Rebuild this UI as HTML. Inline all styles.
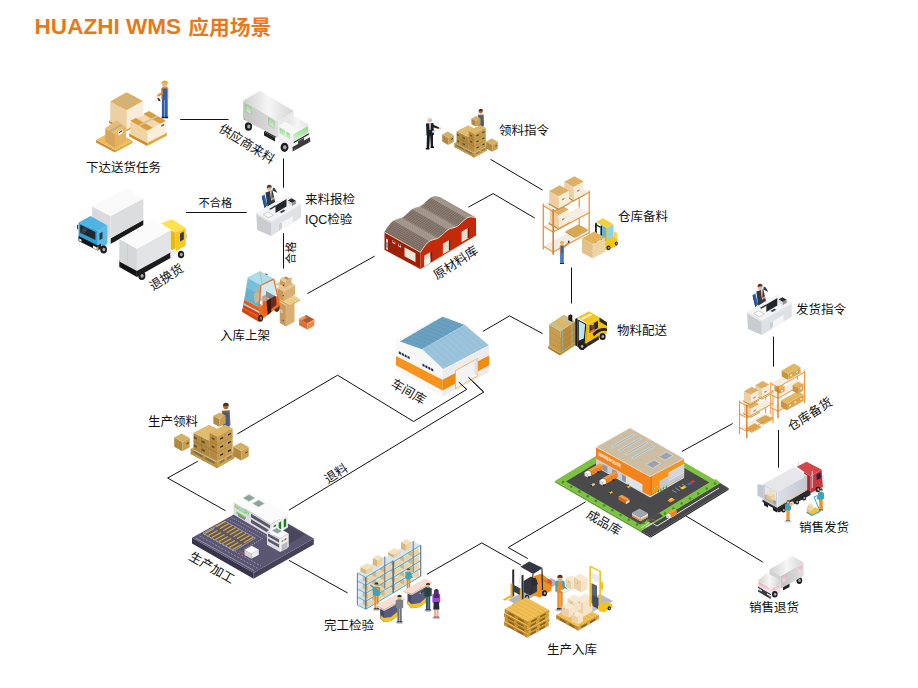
<!DOCTYPE html><html lang="zh"><head><meta charset="utf-8"><title>HUAZHI WMS 应用场景</title>
<style>html,body{margin:0;padding:0;background:#fff}body{width:918px;height:688px;overflow:hidden;font-family:"Liberation Sans","Noto Sans CJK SC",sans-serif}svg{display:block}text{font-family:"Liberation Sans","Noto Sans CJK SC",sans-serif;fill:#111}</style></head><body>
<svg width="918" height="688" viewBox="0 0 918 688">
<rect width="918" height="688" fill="#fff"/>
<text x="34.6" y="34.4" font-size="21.5" font-weight="bold" style="fill:#E8791A" textLength="146.5" lengthAdjust="spacingAndGlyphs">HUAZHI WMS</text>
<text x="188.3" y="35.4" font-size="20.5" font-weight="bold" style="fill:#E8791A" textLength="83" lengthAdjust="spacingAndGlyphs">应用场景</text>
<polyline points="180.2,119.5 228.5,119.5" fill="none" stroke="#111" stroke-width="1" />
<polyline points="283.5,158.5 283.5,187.7" fill="none" stroke="#111" stroke-width="1" />
<polyline points="283.5,233.2 283.5,268.6" fill="none" stroke="#111" stroke-width="1" />
<polyline points="186.0,212.5 246.7,212.5" fill="none" stroke="#111" stroke-width="1" />
<polyline points="307.4,293.6 374.7,256.1" fill="none" stroke="#111" stroke-width="1" />
<polyline points="468.4,207.2 493.1,193.6 534.7,218.0" fill="none" stroke="#111" stroke-width="1" />
<polyline points="490.5,159.3 542.6,190.1" fill="none" stroke="#111" stroke-width="1" />
<polyline points="571.5,267.5 571.5,303.5" fill="none" stroke="#111" stroke-width="1" />
<polyline points="482.9,331.4 509.6,315.9 542.6,333.6" fill="none" stroke="#111" stroke-width="1" />
<polyline points="773.5,336.6 773.5,366.7" fill="none" stroke="#111" stroke-width="1" />
<polyline points="778.5,430.0 778.5,467.7" fill="none" stroke="#111" stroke-width="1" />
<polyline points="681.8,451.5 732.7,423.5" fill="none" stroke="#111" stroke-width="1" />
<polyline points="685.7,515.8 762.8,562.1" fill="none" stroke="#111" stroke-width="1" />
<polyline points="585.7,501.8 508.2,547.5 527.8,558.6" fill="none" stroke="#111" stroke-width="1" />
<polyline points="426.9,574.3 481.8,542.9 521.0,565.1" fill="none" stroke="#111" stroke-width="1" />
<polyline points="288.9,560.3 347.5,592.9" fill="none" stroke="#111" stroke-width="1" />
<polyline points="197.7,461.3 167.6,478.0 225.5,510.7" fill="none" stroke="#111" stroke-width="1" />
<polyline points="237.4,433.9 337.6,375.2 413.6,421.5 466.7,389.4 458.8,382.3" fill="none" stroke="#111" stroke-width="1" />
<polyline points="288.9,510.2 483.7,392.1 468.4,377.2" fill="none" stroke="#111" stroke-width="1" />
<polygon points="126.5,131.5 109.0,122.9 109.0,120.7 126.5,129.3" fill="#c98e2b" /><polygon points="126.5,131.5 143.5,122.1 143.5,119.9 126.5,129.3" fill="#e2a842" /><polygon points="126.5,129.3 109.0,120.7 126.0,111.3 143.5,119.9" fill="#eebc5c" /><polygon points="126.5,129.5 110.2,120.9 110.2,101.6 126.5,110.2" fill="#ecd0a4" /><polygon points="126.5,129.5 142.9,120.2 142.9,100.9 126.5,110.2" fill="#f8ecd8" /><polygon points="126.5,110.2 110.2,101.6 126.6,92.3 142.9,100.9" fill="#ddb067" /><polygon points="133.7,106.1 135.7,105.0 119.4,96.4 117.4,97.5" fill="#c9b48a" /><polygon points="119.3,106.4 117.4,105.4 133.8,96.1 135.7,97.1" fill="#c9b48a" /><polygon points="115.0,152.5 96.0,142.5 96.0,140.1 115.0,150.1" fill="#c98e2b" /><polygon points="115.0,152.5 132.5,143.0 132.5,140.6 115.0,150.1" fill="#e2a842" /><polygon points="115.0,150.1 96.0,140.1 113.5,130.6 132.5,140.6" fill="#eebc5c" /><polygon points="115.0,148.0 105.3,141.5 105.3,127.9 115.0,134.4" fill="#dca552" /><polygon points="115.0,148.0 126.0,140.4 126.0,126.8 115.0,134.4" fill="#e4b466" /><polygon points="115.0,134.4 105.3,127.9 116.3,120.3 126.0,126.8" fill="#e6bd74" /><polygon points="110.9,131.7 109.2,130.5 120.2,124.5 121.9,125.7" fill="#c4ad84" /><polygon points="110.9,145.3 109.2,144.1 109.2,130.5 110.9,131.7" fill="#c4a878" /><polygon points="118.5,131.5 122.5,129.3 122.5,133.3 118.5,135.5" fill="#fff" /><polygon points="119.0,132.0 122.0,130.3 122.0,131.6 119.0,133.3" fill="#444" /><polygon points="147.2,146.0 129.2,136.6 129.2,133.6 147.2,143.0" fill="#c98e2b" /><polygon points="147.2,146.0 166.8,135.8 166.8,132.8 147.2,143.0" fill="#e2a842" /><polygon points="147.2,143.0 129.2,133.6 148.8,123.4 166.8,132.8" fill="#eebc5c" /><polygon points="147.2,142.6 130.3,133.9 130.3,121.9 147.2,130.6" fill="#efd4a6" /><polygon points="147.2,142.6 165.8,133.3 165.8,121.3 147.2,130.6" fill="#f9efdd" /><polygon points="147.2,130.6 130.3,121.9 148.9,112.6 165.8,121.3" fill="#f0d9b0" /><polygon points="147.2,130.6 152.8,127.7 135.9,117.9 130.3,120.8" fill="#dc9c3c" /><polygon points="160.2,123.7 165.8,120.8 148.9,111.0 143.3,113.9" fill="#dc9c3c" /><polygon points="139.6,126.2 137.9,125.2 156.5,115.4 158.2,116.4" fill="#d8c29a" /><polygon points="161.0,124.6 164.5,122.8 164.5,126.6 161.0,128.4" fill="#fff" /><polygon points="161.3,125.3 164.2,123.8 164.2,125.2 161.3,126.7" fill="#444" /><rect x="161.9" y="98.8" width="2.7" height="18.4" fill="#2b5fb0" rx="0.0"/><rect x="165.0" y="98.8" width="2.7" height="18.4" fill="#2b5fb0" rx="0.0"/><rect x="161.6" y="116.7" width="3.2" height="1.6" fill="#222" rx="0.0"/><rect x="165.0" y="116.7" width="3.2" height="1.6" fill="#222" rx="0.0"/><rect x="161.2" y="86.9" width="7.1" height="13.0" fill="#f08a1c" rx="1.7"/><rect x="162.4" y="88.5" width="4.8" height="11.4" fill="#2b5fb0" rx="0.5"/><circle cx="164.8" cy="84.4" r="2.7" fill="#e8b88a" /><path d="M161.3 83.6 a3.5 3.7 0 0 1 6.9 0 z" fill="#f5a623"/><polygon points="157.0,95.0 162.5,91.5 163.5,93.5 158.0,97.0" fill="#f08a1c" /><polygon points="154.5,95.5 158.5,96.5 160.0,100.5 157.0,100.0" fill="#eee" /><polygon points="157.5,97.5 160.0,99.0 160.5,101.5 158.0,100.5" fill="#333" /><defs><linearGradient id="gw1" x1="0" y1="0" x2="1" y2="0"><stop offset="0" stop-color="#cfcfcf"/><stop offset="0.5" stop-color="#f6f6f6"/><stop offset="1" stop-color="#d4d4d4"/></linearGradient><linearGradient id="gw2" x1="0" y1="0" x2="1" y2="0"><stop offset="0" stop-color="#c4c4c4"/><stop offset="1" stop-color="#dedede"/></linearGradient><linearGradient id="gwin" x1="0" y1="0" x2="0" y2="1"><stop offset="0" stop-color="#8fd98a"/><stop offset="1" stop-color="#d6f3d2"/></linearGradient></defs><ellipse cx="248.5" cy="126.5" rx="3.6" ry="4.2" fill="#1c1c1c" /><ellipse cx="248.8" cy="126.5" rx="1.6" ry="1.9" fill="#a9a9a9" /><polygon points="264.0,131.5 275.0,137.5 275.0,141.5 264.0,135.5" fill="#222" /><polygon points="264.0,131.5 267.0,130.0 278.0,136.0 275.0,137.5" fill="#333" /><polygon points="243.1,100.7 278.0,121.4 278.0,137.8 243.1,119.3" fill="url(#gw2)" /><polygon points="278.0,121.4 293.8,111.1 293.8,127.0 278.0,137.8" fill="#e9e9e9" /><polygon points="260.0,90.9 243.1,100.7 278.0,121.4 293.8,111.1" fill="url(#gw1)" /><polygon points="245.6,104.3 251.0,107.5 251.0,114.5 245.6,111.3" fill="url(#gwin)" stroke="#9a9a9a" stroke-width="0.4"/><polygon points="268.5,117.8 274.2,121.2 274.2,128.2 268.5,124.8" fill="url(#gwin)" stroke="#9a9a9a" stroke-width="0.4"/><polygon points="278.5,125.5 292.7,134.0 292.7,151.0 278.5,142.5" fill="#f2f2f2" /><polygon points="292.7,134.0 308.5,124.7 310.2,142.2 292.7,151.0" fill="#f4f4f4" /><polygon points="278.5,125.5 295.4,116.5 308.5,124.7 292.7,134.0" fill="#f7f7f7" /><polygon points="286.0,121.5 295.4,116.5 308.5,124.7 299.0,130.2" fill="url(#gw1)" opacity="0.6"/><polygon points="279.5,127.5 285.0,130.8 285.0,136.6 279.5,133.3" fill="url(#gwin)" /><polygon points="286.3,131.5 290.0,133.8 290.0,139.4 286.3,137.2" fill="url(#gwin)" /><polygon points="293.3,134.4 307.7,126.0 308.6,132.2 293.6,141.0" fill="url(#gwin)" /><polygon points="293.6,142.0 308.8,133.2 309.0,134.4 293.7,143.3" fill="#222" /><polygon points="298.0,141.2 304.0,137.7 304.2,141.5 298.2,145.0" fill="#444" /><polygon points="292.5,147.0 310.0,137.2 310.3,141.8 292.7,151.5" fill="#3a3a3a" /><circle cx="294.8" cy="149.3" r="0.7" fill="#d63cc8" /><circle cx="308.6" cy="141.6" r="0.7" fill="#d63cc8" /><circle cx="244.8" cy="119.4" r="0.5" fill="#d63cc8" /><circle cx="275.5" cy="137.0" r="0.5" fill="#d63cc8" /><ellipse cx="284.5" cy="147.3" rx="3.9" ry="4.6" fill="#1c1c1c" /><ellipse cx="284.8" cy="147.3" rx="1.8" ry="2.1" fill="#a9a9a9" /><polygon points="261.8,196.5 264.5,194.3 267.5,205.5 264.5,208.0" fill="#2d63b5" /><polygon points="261.8,196.5 262.8,195.6 265.6,207.0 264.5,208.0" fill="#1f4a8c" /><polygon points="265.5,192.5 272.5,190.2 275.5,203.5 267.5,207.0" fill="#2e3a44" /><polygon points="270.0,191.5 271.6,191.0 272.6,200.0 271.2,200.6" fill="#f2f2f2" /><polygon points="270.7,192.5 271.5,192.3 272.4,199.0 271.5,199.5" fill="#d0343c" /><polygon points="272.5,190.5 277.5,193.0 275.0,188.5 273.0,187.5" fill="#2e3a44" /><circle cx="269.3" cy="188.4" r="2.3" fill="#e5b48c" /><path d="M266.8 188 a2.6 2.9 0 0 1 5.2 -0.6 l-1.2 -0.2 l-3 0.6z" fill="#5a3420"/><circle cx="273.5" cy="198.5" r="1.0" fill="#e5b48c" /><polygon points="256.2,213.1 286.7,195.3 301.0,204.0 271.0,221.8" fill="#f3f4f5" /><polygon points="256.2,213.1 271.0,221.8 271.0,236.0 257.2,229.9" fill="#c9cdd1" /><polygon points="271.0,221.8 301.0,204.0 301.0,217.7 271.0,236.0" fill="#dfe2e5" /><polygon points="279.0,224.0 292.8,216.0 292.8,223.0 279.0,231.3" fill="#f4f5f6" /><polygon points="279.0,224.0 282.0,222.3 282.0,227.5 279.0,231.3" fill="#ccd0d4" /><polygon points="256.2,213.1 271.0,221.8 301.0,204.0 301.0,205.4 271.0,223.2 256.2,214.5" fill="#e6e8ea" /><polygon points="275.5,205.5 286.5,199.0 286.5,206.5 275.5,213.0" fill="#23272b" /><polygon points="279.5,212.0 283.5,209.7 285.5,210.8 281.5,213.1" fill="#3a3f44" /><polygon points="269.0,209.0 275.0,205.5 276.5,206.3 270.5,209.8" fill="#2c3136" /><polygon points="287.7,200.5 291.5,198.3 295.9,200.8 292.0,203.0" fill="#2a2e32" /><polygon points="287.7,200.5 292.0,203.0 292.0,206.0 287.7,203.5" fill="#d8dbde" /><polygon points="292.0,203.0 295.9,200.8 295.9,203.8 292.0,206.0" fill="#8a9096" /><polygon points="263.0,214.6 268.0,211.8 273.5,215.0 268.5,217.8" fill="#ffffff" stroke="#8a8f94" stroke-width="0.4"/><g transform="translate(490.8 99.0)"><polygon points="261.8,196.5 264.5,194.3 267.5,205.5 264.5,208.0" fill="#2d63b5" /><polygon points="261.8,196.5 262.8,195.6 265.6,207.0 264.5,208.0" fill="#1f4a8c" /><polygon points="265.5,192.5 272.5,190.2 275.5,203.5 267.5,207.0" fill="#2e3a44" /><polygon points="270.0,191.5 271.6,191.0 272.6,200.0 271.2,200.6" fill="#f2f2f2" /><polygon points="270.7,192.5 271.5,192.3 272.4,199.0 271.5,199.5" fill="#d0343c" /><polygon points="272.5,190.5 277.5,193.0 275.0,188.5 273.0,187.5" fill="#2e3a44" /><circle cx="269.3" cy="188.4" r="2.3" fill="#e5b48c" /><path d="M266.8 188 a2.6 2.9 0 0 1 5.2 -0.6 l-1.2 -0.2 l-3 0.6z" fill="#5a3420"/><circle cx="273.5" cy="198.5" r="1.0" fill="#e5b48c" /><polygon points="256.2,213.1 286.7,195.3 301.0,204.0 271.0,221.8" fill="#f3f4f5" /><polygon points="256.2,213.1 271.0,221.8 271.0,236.0 257.2,229.9" fill="#c9cdd1" /><polygon points="271.0,221.8 301.0,204.0 301.0,217.7 271.0,236.0" fill="#dfe2e5" /><polygon points="279.0,224.0 292.8,216.0 292.8,223.0 279.0,231.3" fill="#f4f5f6" /><polygon points="279.0,224.0 282.0,222.3 282.0,227.5 279.0,231.3" fill="#ccd0d4" /><polygon points="256.2,213.1 271.0,221.8 301.0,204.0 301.0,205.4 271.0,223.2 256.2,214.5" fill="#e6e8ea" /><polygon points="275.5,205.5 286.5,199.0 286.5,206.5 275.5,213.0" fill="#23272b" /><polygon points="279.5,212.0 283.5,209.7 285.5,210.8 281.5,213.1" fill="#3a3f44" /><polygon points="269.0,209.0 275.0,205.5 276.5,206.3 270.5,209.8" fill="#2c3136" /><polygon points="287.7,200.5 291.5,198.3 295.9,200.8 292.0,203.0" fill="#2a2e32" /><polygon points="287.7,200.5 292.0,203.0 292.0,206.0 287.7,203.5" fill="#d8dbde" /><polygon points="292.0,203.0 295.9,200.8 295.9,203.8 292.0,206.0" fill="#8a9096" /><polygon points="263.0,214.6 268.0,211.8 273.5,215.0 268.5,217.8" fill="#ffffff" stroke="#8a8f94" stroke-width="0.4"/></g><polygon points="110.5,238.3 143.3,219.9 143.3,225.5 110.5,244.0" fill="#1a1a1a" /><polygon points="92.2,206.4 110.5,216.0 110.5,239.5 92.2,230.0" fill="#d9dadb" /><polygon points="110.5,216.0 143.3,198.4 143.3,220.0 110.5,238.5" fill="#dcdddf" /><polygon points="126.5,188.0 92.2,206.4 110.5,216.0 143.3,198.4" fill="#fafafa" /><polygon points="107.5,236.0 110.5,237.6 110.5,244.0 107.5,242.4" fill="#eeeeee" /><polygon points="78.6,222.4 97.8,231.1 97.8,250.3 78.6,240.8" fill="#2b9fd6" /><polygon points="97.8,231.1 107.4,225.5 107.4,244.0 97.8,250.3" fill="#5db9e6" /><polygon points="90.6,216.0 78.6,222.4 97.8,231.1 107.4,225.5" fill="#4fb4e4" /><polygon points="80.2,224.8 95.4,232.0 95.4,240.0 80.2,232.8" fill="#23272b" /><polygon points="83.0,227.0 88.0,229.4 84.0,233.5 81.5,232.3" fill="#3c4248" /><polygon points="99.5,233.5 102.5,231.8 102.5,238.5 99.5,240.3" fill="#2d3a42" /><polygon points="78.6,236.0 97.8,245.5 97.8,250.5 78.6,241.0" fill="#141414" /><polygon points="97.8,245.5 101.0,243.6 101.0,248.6 97.8,250.5" fill="#222" /><polygon points="79.2,238.6 81.5,239.7 81.5,241.8 79.2,240.7" fill="#fff" /><polygon points="93.0,245.5 96.8,247.4 96.8,249.8 93.0,247.9" fill="#fff" /><polygon points="96.8,247.4 98.4,246.5 98.4,250.0 96.8,250.7" fill="#f5a623" /><polygon points="77.0,224.5 78.2,225.0 78.2,229.5 77.0,229.0" fill="#3a4a55" /><ellipse cx="103.6" cy="249.6" rx="3.4" ry="4.0" fill="#1c1c1c" /><ellipse cx="103.9" cy="249.6" rx="1.5" ry="1.8" fill="#a9a9a9" /><ellipse cx="181.0" cy="254.5" rx="3.2" ry="3.8" fill="#1c1c1c" /><ellipse cx="181.3" cy="254.5" rx="1.5" ry="1.7" fill="#a9a9a9" /><polygon points="160.9,223.2 172.1,219.2 185.7,227.9 175.3,232.7" fill="#ffe14d" /><polygon points="175.3,232.7 185.7,227.9 185.7,245.5 175.3,251.5" fill="#f7c81e" /><polygon points="170.5,230.3 175.3,232.7 175.3,251.5 170.5,249.0" fill="#e9b90f" /><polygon points="180.0,233.5 183.8,231.6 183.8,239.5 180.0,241.5" fill="#3a3a32" /><polygon points="186.0,234.0 187.0,233.5 187.0,238.5 186.0,239.0" fill="#ccc" /><polygon points="119.3,260.0 136.9,270.0 136.9,277.0 119.3,267.0" fill="#121212" /><polygon points="136.9,270.0 170.5,251.5 170.5,258.0 136.9,277.0" fill="#1c1c1c" /><polygon points="170.5,251.0 176.0,248.0 176.0,254.0 170.5,257.5" fill="#eee" /><polygon points="119.3,239.1 136.9,248.7 136.9,271.0 119.3,261.5" fill="#d6d7d8" /><polygon points="136.9,248.7 170.5,230.3 170.5,252.6 136.9,271.0" fill="#e3e4e5" /><polygon points="152.1,220.0 119.3,239.1 136.9,248.7 170.5,230.3" fill="#fbfbfb" /><line x1="127.5" y1="243.7" x2="127.5" y2="266.0" stroke="#c6c7c8" stroke-width="0.6" /><ellipse cx="141.8" cy="275.8" rx="3.6" ry="4.2" fill="#1c1c1c" /><ellipse cx="142.1" cy="275.8" rx="1.6" ry="1.9" fill="#a9a9a9" /><polygon points="275.0,284.0 279.0,282.0 284.0,285.0 280.0,287.5" fill="#ecc98a" /><polygon points="285.9,326.5 279.8,323.1 279.8,302.1 285.9,305.5" fill="#c9995a" /><polygon points="285.9,326.5 294.5,321.7 294.5,300.7 285.9,305.5" fill="#dab074" /><polygon points="285.9,305.5 279.8,302.1 288.4,297.3 294.5,300.7" fill="#e6c48f" /><polygon points="289.5,306.5 277.0,299.5 277.0,297.9 289.5,304.9" fill="#d4a85e" /><polygon points="289.5,306.5 300.1,300.6 300.1,299.0 289.5,304.9" fill="#dcb46c" /><polygon points="289.5,304.9 277.0,297.9 287.6,292.0 300.1,299.0" fill="#efd092" /><line x1="292.1" y1="303.4" x2="287.1" y2="300.6" stroke="#d4a85e" stroke-width="0.4" /><line x1="294.8" y1="301.9" x2="289.8" y2="299.1" stroke="#d4a85e" stroke-width="0.4" /><line x1="297.4" y1="300.5" x2="292.4" y2="297.7" stroke="#d4a85e" stroke-width="0.4" /><polygon points="283.8,301.0 277.4,297.4 277.4,287.8 283.8,291.4" fill="#c9995a" /><polygon points="283.8,301.0 295.2,294.6 295.2,285.0 283.8,291.4" fill="#dab074" /><polygon points="283.8,291.4 277.4,287.8 288.8,281.4 295.2,285.0" fill="#e6c48f" /><polygon points="285.5,287.3 279.8,284.3 279.8,279.7 285.5,282.7" fill="#c9995a" /><polygon points="285.5,287.3 291.5,284.1 291.5,279.5 285.5,282.7" fill="#dab074" /><polygon points="285.5,282.7 279.8,279.7 285.8,276.5 291.5,279.5" fill="#b88a4c" /><polygon points="279.8,279.7 282.0,277.0 287.5,279.8 285.5,282.7" fill="#e9c996" /><polygon points="285.5,282.7 287.5,279.8 292.5,277.0 291.5,279.5" fill="#deb67c" /><circle cx="283.2" cy="295.6" r="0.7" fill="#2d4a9a" /><circle cx="283.2" cy="320.5" r="0.7" fill="#2d4a9a" /><circle cx="283.5" cy="285.5" r="0.7" fill="#2d4a9a" /><polygon points="280.5,309.0 282.5,310.1 282.5,313.5 280.5,312.4" fill="#e8d4b0" opacity="0.8"/><circle cx="292.5" cy="291.5" r="1.0" fill="#c9a870" /><polygon points="307.3,329.6 299.1,325.2 299.1,319.0 307.3,323.4" fill="#d9733a" /><polygon points="307.3,329.6 314.3,325.7 314.3,319.5 307.3,323.4" fill="#e8894c" /><polygon points="307.3,323.4 299.1,319.0 306.1,315.1 314.3,319.5" fill="#b8562a" /><polygon points="299.1,319.0 304.5,315.9 307.0,317.5 301.5,320.6" fill="#f09a5c" /><polygon points="307.3,323.4 314.3,319.5 314.3,321.0 307.3,325.0" fill="#f4a66a" /><ellipse cx="276.7" cy="306.9" rx="3.1" ry="5.0" fill="#4a2c2c" /><ellipse cx="276.9" cy="306.9" rx="1.4" ry="2.4" fill="#6a4444" /><polygon points="244.2,299.6 258.9,307.2 259.4,322.0 242.1,311.8" fill="#ea5b19" /><polygon points="242.1,308.5 259.4,318.5 259.4,322.0 242.1,311.8" fill="#c94a14" /><polygon points="258.9,307.2 277.7,295.5 279.8,299.5 279.8,305.5 265.5,316.5 259.4,322.0" fill="#f26a21" /><polygon points="244.2,299.6 247.7,297.8 262.0,305.0 258.9,307.2" fill="#f58634" /><polygon points="243.8,303.2 258.9,311.2 258.9,312.9 243.8,304.9" fill="#8fe0ee" /><polygon points="243.6,305.4 258.9,313.5 258.9,315.6 243.6,307.5" fill="#d9301c" /><polygon points="266.0,291.0 276.0,296.5 276.5,305.0 267.5,311.5 266.0,306.0" fill="#6a2a22" /><polygon points="267.3,298.5 271.0,296.5 271.3,312.0 267.6,315.2" fill="#3c1a18" /><polygon points="262.0,296.5 266.0,294.5 267.3,312.5 263.5,315.0" fill="#e8601c" /><polygon points="247.7,277.7 259.9,271.6 273.7,279.2 260.9,285.3" fill="#a9deec" /><polygon points="247.7,277.7 260.9,285.3 258.9,307.2 244.2,299.6" fill="#78c0da" /><polygon points="247.0,288.0 259.8,295.0 258.9,307.2 244.2,299.6" fill="#5aa6c4" opacity="0.6"/><polygon points="260.9,285.3 273.7,279.2 277.3,294.5 266.5,301.0 259.5,302.0" fill="#a6d8ea" opacity="0.55"/><polygon points="253.5,294.0 258.0,291.5 262.0,300.0 255.0,303.5" fill="#cdb592" /><circle cx="256.8" cy="290.3" r="1.7" fill="#c9ab8c" /><polygon points="266.0,297.3 269.2,298.3 269.0,299.5 265.8,298.6" fill="#e2b48c" /><polyline points="260.9,285.3 273.7,279.2 277.7,295.8" fill="none" stroke="#f26a21" stroke-width="1.2" /><line x1="260.9" y1="285.3" x2="259.0" y2="307.2" stroke="#f26a21" stroke-width="1.2" /><line x1="259.9" y1="271.6" x2="262.3" y2="285.0" stroke="#e8a070" stroke-width="0.7" /><polyline points="247.7,277.7 259.9,271.6 273.7,279.2" fill="none" stroke="#8ccbe0" stroke-width="0.6" /><polygon points="265.5,273.2 267.5,274.3 267.5,275.3 265.5,274.2" fill="#333" /><ellipse cx="260.6" cy="318.2" rx="2.4" ry="3.4" fill="#2a2020" /><ellipse cx="260.9" cy="318.2" rx="1.1" ry="1.7" fill="#8a7a7a" /><polygon points="383.6,250.2 420.4,270.0 477.0,235.8 477.0,234.0" fill="#efe6d6" /><polygon points="384.5,232.0 420.4,251.5 420.4,268.9 384.5,249.8" fill="#9e1f08" /><polygon points="420.4,268.9 420.4,252.3 421.6,250.5 422.7,248.8 423.9,247.1 425.0,245.6 426.2,244.2 427.3,243.0 428.5,242.0 429.7,241.2 430.8,240.5 432.0,240.0 433.1,239.7 434.3,239.4 435.5,239.1 436.6,238.7 437.8,238.2 438.9,237.6 440.1,236.8 441.2,235.8 442.4,234.8 443.6,233.6 444.7,232.5 445.9,231.4 447.0,230.5 448.2,229.7 449.4,229.0 450.5,228.5 451.7,228.2 452.8,227.9 454.0,227.6 455.1,227.2 456.3,226.7 457.5,226.1 458.6,225.3 459.8,224.3 460.9,223.3 462.1,222.1 463.3,221.0 464.4,219.9 465.6,219.0 466.7,218.2 467.9,217.5 469.0,217.1 470.2,216.9 471.4,216.9 472.5,217.0 473.7,217.2 474.8,217.5 476.0,217.8 476.0,235.4" fill="#c42a0a" /><polygon points="420.4,252.3 421.6,250.5 385.7,230.2 384.5,232.0" fill="#796b5f" stroke="#796b5f" stroke-width="0.3"/><polygon points="421.6,250.5 422.7,248.8 386.8,228.5 385.7,230.2" fill="#796b5f" stroke="#796b5f" stroke-width="0.3"/><polygon points="422.7,248.8 423.9,247.1 388.0,226.8 386.8,228.5" fill="#796b5f" stroke="#796b5f" stroke-width="0.3"/><polygon points="423.9,247.1 425.0,245.6 389.1,225.3 388.0,226.8" fill="#796b5f" stroke="#796b5f" stroke-width="0.3"/><polygon points="425.0,245.6 426.2,244.2 390.3,223.9 389.1,225.3" fill="#796b5f" stroke="#796b5f" stroke-width="0.3"/><polygon points="426.2,244.2 427.3,243.0 391.4,222.7 390.3,223.9" fill="#796b5f" stroke="#796b5f" stroke-width="0.3"/><polygon points="427.3,243.0 428.5,242.0 392.6,221.7 391.4,222.7" fill="#796b5f" stroke="#796b5f" stroke-width="0.3"/><polygon points="428.5,242.0 429.7,241.2 393.8,220.8 392.6,221.7" fill="#796b5f" stroke="#796b5f" stroke-width="0.3"/><polygon points="429.7,241.2 430.8,240.5 394.9,220.2 393.8,220.8" fill="#9a8c7f" stroke="#9a8c7f" stroke-width="0.3"/><polygon points="430.8,240.5 432.0,240.0 396.1,219.7 394.9,220.2" fill="#9a8c7f" stroke="#9a8c7f" stroke-width="0.3"/><polygon points="432.0,240.0 433.1,239.7 397.2,219.4 396.1,219.7" fill="#9a8c7f" stroke="#9a8c7f" stroke-width="0.3"/><polygon points="433.1,239.7 434.3,239.4 398.4,219.1 397.2,219.4" fill="#9a8c7f" stroke="#9a8c7f" stroke-width="0.3"/><polygon points="434.3,239.4 435.5,239.1 399.6,218.8 398.4,219.1" fill="#9a8c7f" stroke="#9a8c7f" stroke-width="0.3"/><polygon points="435.5,239.1 436.6,238.7 400.7,218.4 399.6,218.8" fill="#9a8c7f" stroke="#9a8c7f" stroke-width="0.3"/><polygon points="436.6,238.7 437.8,238.2 401.9,217.9 400.7,218.4" fill="#9a8c7f" stroke="#9a8c7f" stroke-width="0.3"/><polygon points="437.8,238.2 438.9,237.6 403.0,217.3 401.9,217.9" fill="#85776a" stroke="#85776a" stroke-width="0.3"/><polygon points="438.9,237.6 440.1,236.8 404.2,216.5 403.0,217.3" fill="#796b5f" stroke="#796b5f" stroke-width="0.3"/><polygon points="440.1,236.8 441.2,235.8 405.3,215.5 404.2,216.5" fill="#796b5f" stroke="#796b5f" stroke-width="0.3"/><polygon points="441.2,235.8 442.4,234.8 406.5,214.5 405.3,215.5" fill="#796b5f" stroke="#796b5f" stroke-width="0.3"/><polygon points="442.4,234.8 443.6,233.6 407.7,213.3 406.5,214.5" fill="#796b5f" stroke="#796b5f" stroke-width="0.3"/><polygon points="443.6,233.6 444.7,232.5 408.8,212.2 407.7,213.3" fill="#796b5f" stroke="#796b5f" stroke-width="0.3"/><polygon points="444.7,232.5 445.9,231.4 410.0,211.1 408.8,212.2" fill="#796b5f" stroke="#796b5f" stroke-width="0.3"/><polygon points="445.9,231.4 447.0,230.5 411.1,210.2 410.0,211.1" fill="#796b5f" stroke="#796b5f" stroke-width="0.3"/><polygon points="447.0,230.5 448.2,229.7 412.3,209.3 411.1,210.2" fill="#796b5f" stroke="#796b5f" stroke-width="0.3"/><polygon points="448.2,229.7 449.4,229.0 413.5,208.7 412.3,209.3" fill="#9a8c7f" stroke="#9a8c7f" stroke-width="0.3"/><polygon points="449.4,229.0 450.5,228.5 414.6,208.2 413.5,208.7" fill="#9a8c7f" stroke="#9a8c7f" stroke-width="0.3"/><polygon points="450.5,228.5 451.7,228.2 415.8,207.9 414.6,208.2" fill="#9a8c7f" stroke="#9a8c7f" stroke-width="0.3"/><polygon points="451.7,228.2 452.8,227.9 416.9,207.6 415.8,207.9" fill="#9a8c7f" stroke="#9a8c7f" stroke-width="0.3"/><polygon points="452.8,227.9 454.0,227.6 418.1,207.3 416.9,207.6" fill="#9a8c7f" stroke="#9a8c7f" stroke-width="0.3"/><polygon points="454.0,227.6 455.1,227.2 419.2,206.9 418.1,207.3" fill="#9a8c7f" stroke="#9a8c7f" stroke-width="0.3"/><polygon points="455.1,227.2 456.3,226.7 420.4,206.4 419.2,206.9" fill="#9a8c7f" stroke="#9a8c7f" stroke-width="0.3"/><polygon points="456.3,226.7 457.5,226.1 421.6,205.8 420.4,206.4" fill="#85776a" stroke="#85776a" stroke-width="0.3"/><polygon points="457.5,226.1 458.6,225.3 422.7,205.0 421.6,205.8" fill="#796b5f" stroke="#796b5f" stroke-width="0.3"/><polygon points="458.6,225.3 459.8,224.3 423.9,204.0 422.7,205.0" fill="#796b5f" stroke="#796b5f" stroke-width="0.3"/><polygon points="459.8,224.3 460.9,223.3 425.0,203.0 423.9,204.0" fill="#796b5f" stroke="#796b5f" stroke-width="0.3"/><polygon points="460.9,223.3 462.1,222.1 426.2,201.8 425.0,203.0" fill="#796b5f" stroke="#796b5f" stroke-width="0.3"/><polygon points="462.1,222.1 463.3,221.0 427.4,200.7 426.2,201.8" fill="#796b5f" stroke="#796b5f" stroke-width="0.3"/><polygon points="463.3,221.0 464.4,219.9 428.5,199.6 427.4,200.7" fill="#796b5f" stroke="#796b5f" stroke-width="0.3"/><polygon points="464.4,219.9 465.6,219.0 429.7,198.7 428.5,199.6" fill="#796b5f" stroke="#796b5f" stroke-width="0.3"/><polygon points="465.6,219.0 466.7,218.2 430.8,197.8 429.7,198.7" fill="#796b5f" stroke="#796b5f" stroke-width="0.3"/><polygon points="466.7,218.2 467.9,217.5 432.0,197.2 430.8,197.8" fill="#9a8c7f" stroke="#9a8c7f" stroke-width="0.3"/><polygon points="467.9,217.5 469.0,217.1 433.1,196.8 432.0,197.2" fill="#9a8c7f" stroke="#9a8c7f" stroke-width="0.3"/><polygon points="469.0,217.1 470.2,216.9 434.3,196.6 433.1,196.8" fill="#9a8c7f" stroke="#9a8c7f" stroke-width="0.3"/><polygon points="470.2,216.9 471.4,216.9 435.5,196.6 434.3,196.6" fill="#9a8c7f" stroke="#9a8c7f" stroke-width="0.3"/><polygon points="471.4,216.9 472.5,217.0 436.6,196.7 435.5,196.6" fill="#9a8c7f" stroke="#9a8c7f" stroke-width="0.3"/><polygon points="472.5,217.0 473.7,217.2 437.8,196.9 436.6,196.7" fill="#9a8c7f" stroke="#9a8c7f" stroke-width="0.3"/><polygon points="473.7,217.2 474.8,217.5 438.9,197.2 437.8,196.9" fill="#9a8c7f" stroke="#9a8c7f" stroke-width="0.3"/><polygon points="474.8,217.5 476.0,217.8 440.1,197.5 438.9,197.2" fill="#9a8c7f" stroke="#9a8c7f" stroke-width="0.3"/><polyline points="420.4,252.3 421.6,250.5 422.7,248.8 423.9,247.1 425.0,245.6 426.2,244.2 427.3,243.0 428.5,242.0 429.7,241.2 430.8,240.5 432.0,240.0 433.1,239.7 434.3,239.4 435.5,239.1 436.6,238.7 437.8,238.2 438.9,237.6 440.1,236.8 441.2,235.8 442.4,234.8 443.6,233.6 444.7,232.5 445.9,231.4 447.0,230.5 448.2,229.7 449.4,229.0 450.5,228.5 451.7,228.2 452.8,227.9 454.0,227.6 455.1,227.2 456.3,226.7 457.5,226.1 458.6,225.3 459.8,224.3 460.9,223.3 462.1,222.1 463.3,221.0 464.4,219.9 465.6,219.0 466.7,218.2 467.9,217.5 469.0,217.1 470.2,216.9 471.4,216.9 472.5,217.0 473.7,217.2 474.8,217.5 476.0,217.8" fill="none" stroke="#f1e9dc" stroke-width="0.8" /><line x1="384.5" y1="232.2" x2="420.4" y2="252.3" stroke="#efe6d8" stroke-width="0.8" /><polygon points="424.3,255.8 431.8,251.2 431.8,261.7 424.3,266.3" fill="#efe9dc" /><polygon points="430.3,252.1 432.1,251.0 432.1,261.5 430.3,262.6" fill="#7e1806" /><line x1="424.3" y1="257.9" x2="430.3" y2="254.2" stroke="#b9b09f" stroke-width="0.4" /><line x1="424.3" y1="260.0" x2="430.3" y2="256.3" stroke="#b9b09f" stroke-width="0.4" /><line x1="424.3" y1="262.1" x2="430.3" y2="258.4" stroke="#b9b09f" stroke-width="0.4" /><line x1="424.3" y1="264.2" x2="430.3" y2="260.5" stroke="#b9b09f" stroke-width="0.4" /><polygon points="442.9,243.8 450.4,239.2 450.4,249.7 442.9,254.3" fill="#efe9dc" /><polygon points="448.9,240.1 450.7,239.0 450.7,249.5 448.9,250.6" fill="#7e1806" /><line x1="442.9" y1="245.9" x2="448.9" y2="242.2" stroke="#b9b09f" stroke-width="0.4" /><line x1="442.9" y1="248.0" x2="448.9" y2="244.3" stroke="#b9b09f" stroke-width="0.4" /><line x1="442.9" y1="250.1" x2="448.9" y2="246.4" stroke="#b9b09f" stroke-width="0.4" /><line x1="442.9" y1="252.2" x2="448.9" y2="248.5" stroke="#b9b09f" stroke-width="0.4" /><polygon points="461.6,231.8 469.1,227.2 469.1,237.7 461.6,242.3" fill="#efe9dc" /><polygon points="467.6,228.1 469.4,227.0 469.4,237.5 467.6,238.6" fill="#7e1806" /><line x1="461.6" y1="233.9" x2="467.6" y2="230.2" stroke="#b9b09f" stroke-width="0.4" /><line x1="461.6" y1="236.0" x2="467.6" y2="232.3" stroke="#b9b09f" stroke-width="0.4" /><line x1="461.6" y1="238.1" x2="467.6" y2="234.4" stroke="#b9b09f" stroke-width="0.4" /><line x1="461.6" y1="240.2" x2="467.6" y2="236.5" stroke="#b9b09f" stroke-width="0.4" /><polygon points="424.3,260.3 430.3,256.6 430.3,262.7 424.3,266.3" fill="#f8f6f0" /><polygon points="404.5,247.3 415.5,253.3 415.5,262.3 404.5,256.3" fill="#efe6d6" /><polygon points="392.5,240.0 395.3,241.5 395.3,244.5 392.5,243.0" fill="#efe6d6" /><polygon points="398.3,243.2 401.1,244.7 401.1,247.7 398.3,246.2" fill="#efe6d6" /><polygon points="393.1,240.3 394.7,241.2 394.7,243.0 393.1,242.1" fill="#5a1004" /><polygon points="398.9,243.5 400.5,244.4 400.5,246.2 398.9,245.3" fill="#5a1004" /><polygon points="386.0,238.5 388.0,239.6 388.0,250.0 386.0,248.9" fill="#d9d2c4" /><polygon points="386.5,242.0 387.5,242.6 387.5,248.0 386.5,247.4" fill="#3a5a9a" /><polygon points="396.0,341.6 419.7,347.2 442.6,369.8 442.6,396.5 396.0,370.6" fill="#f7f7f7" /><polygon points="442.6,369.8 489.1,345.4 489.1,372.1 442.6,396.5" fill="#ececec" /><polygon points="396.0,356.1 442.6,379.8 442.6,390.4 396.0,365.3" fill="#f7941d" /><polygon points="442.6,379.8 489.1,355.4 489.1,365.3 442.6,390.4" fill="#f08a10" /><polygon points="399.8,341.6 442.6,316.4 464.7,324.8 422.0,349.2" fill="#6aa0c0" /><polygon points="422.0,349.2 464.7,324.8 489.1,345.4 443.3,369.3" fill="#9cc3dc" /><line x1="426.3" y1="346.8" x2="447.9" y2="366.9" stroke="#86b0cc" stroke-width="0.45" /><line x1="404.1" y1="339.1" x2="426.3" y2="346.8" stroke="#5a90b2" stroke-width="0.45" /><line x1="430.5" y1="344.3" x2="452.5" y2="364.5" stroke="#86b0cc" stroke-width="0.45" /><line x1="408.4" y1="336.6" x2="430.5" y2="344.3" stroke="#5a90b2" stroke-width="0.45" /><line x1="434.8" y1="341.9" x2="457.0" y2="362.1" stroke="#86b0cc" stroke-width="0.45" /><line x1="412.6" y1="334.0" x2="434.8" y2="341.9" stroke="#5a90b2" stroke-width="0.45" /><line x1="439.1" y1="339.4" x2="461.6" y2="359.7" stroke="#86b0cc" stroke-width="0.45" /><line x1="416.9" y1="331.5" x2="439.1" y2="339.4" stroke="#5a90b2" stroke-width="0.45" /><line x1="443.4" y1="337.0" x2="466.2" y2="357.4" stroke="#86b0cc" stroke-width="0.45" /><line x1="421.2" y1="329.0" x2="443.4" y2="337.0" stroke="#5a90b2" stroke-width="0.45" /><line x1="447.6" y1="334.6" x2="470.8" y2="355.0" stroke="#86b0cc" stroke-width="0.45" /><line x1="425.5" y1="326.5" x2="447.6" y2="334.6" stroke="#5a90b2" stroke-width="0.45" /><line x1="451.9" y1="332.1" x2="475.4" y2="352.6" stroke="#86b0cc" stroke-width="0.45" /><line x1="429.8" y1="324.0" x2="451.9" y2="332.1" stroke="#5a90b2" stroke-width="0.45" /><line x1="456.2" y1="329.7" x2="479.9" y2="350.2" stroke="#86b0cc" stroke-width="0.45" /><line x1="434.0" y1="321.4" x2="456.2" y2="329.7" stroke="#5a90b2" stroke-width="0.45" /><line x1="460.4" y1="327.2" x2="484.5" y2="347.8" stroke="#86b0cc" stroke-width="0.45" /><line x1="438.3" y1="318.9" x2="460.4" y2="327.2" stroke="#5a90b2" stroke-width="0.45" /><polyline points="396.0,341.6 442.6,316.0 465.0,324.3" fill="none" stroke="#f4f4f4" stroke-width="1.2" /><line x1="422.0" y1="349.2" x2="443.3" y2="369.5" stroke="#e8eef2" stroke-width="0.8" /><line x1="443.3" y1="369.5" x2="489.1" y2="345.6" stroke="#f4f4f4" stroke-width="1.0" /><polygon points="455.5,370.6 477.7,358.4 477.7,376.0 455.5,388.9" fill="#f3f3f3" stroke="#f5a84a" stroke-width="0.8"/><polygon points="474.5,360.3 477.5,358.6 477.5,376.0 474.5,374.3" fill="#e2e2e2" /><polygon points="398.8,351.2 400.9,352.3 400.9,354.7 398.8,353.6" fill="#1e2c52" /><polygon points="401.7,352.7 403.8,353.8 403.8,356.2 401.7,355.1" fill="#1e2c52" /><polygon points="404.6,354.2 406.7,355.3 406.7,357.7 404.6,356.6" fill="#1e2c52" /><polygon points="407.5,355.7 409.6,356.8 409.6,359.2 407.5,358.1" fill="#1e2c52" /><polygon points="422.5,363.6 424.6,364.7 424.6,367.1 422.5,366.0" fill="#1e2c52" /><polygon points="425.4,365.1 427.5,366.2 427.5,368.6 425.4,367.5" fill="#1e2c52" /><polygon points="428.3,366.6 430.4,367.7 430.4,370.1 428.3,369.0" fill="#1e2c52" /><polygon points="431.2,368.1 433.3,369.2 433.3,371.6 431.2,370.5" fill="#1e2c52" /><polygon points="427.0,134.0 430.0,134.0 429.2,148.5 426.6,148.5" fill="#16181c" /><polygon points="430.0,134.0 433.0,134.0 433.0,147.0 430.8,147.0" fill="#1c1f24" /><polygon points="425.8,148.0 429.4,148.0 429.4,149.5 425.8,149.5" fill="#111" /><polygon points="430.6,146.5 434.0,146.5 434.0,148.0 430.6,148.0" fill="#111" /><polygon points="426.0,123.5 433.5,123.0 434.0,135.0 426.5,135.5" fill="#1d2026" /><polygon points="429.2,123.3 430.8,123.2 430.6,130.0 429.6,130.0" fill="#f4f4f4" /><polygon points="433.0,124.5 439.0,127.3 438.5,129.0 432.5,127.0" fill="#1d2026" /><circle cx="440.0" cy="128.2" r="0.9" fill="#e5b48c" /><polygon points="432.0,131.0 435.5,130.0 436.0,132.0 432.5,133.0" fill="#ddd" /><circle cx="429.8" cy="120.2" r="2.3" fill="#e9c0a0" /><path d="M427.2 120 a2.6 2.8 0 0 1 5.2 -0.2 l-1 -0.8 l-3 0z" fill="#e8e8ea"/><g transform="translate(474.2 152.2) scale(1.000)"><polygon points="0.0,5.2 -19.6,-5.2 -19.6,-9.2 0.0,1.2" fill="#7d6f52" /><polygon points="0.0,5.2 12.8,-2.0 12.8,-6.0 0.0,1.2" fill="#8c7c5a" /><polygon points="0.0,1.2 -19.6,-9.2 -6.8,-16.4 12.8,-6.0" fill="#d2b062" /><polygon points="0.0,5.2 -19.6,-5.2 -19.6,-7.0 0.0,3.4" fill="#c19a48" /><polygon points="0.0,5.2 12.8,-2.0 12.8,-3.8 0.0,3.4" fill="#d0aa54" /><polygon points="0.0,5.2 -2.0,4.2 -2.0,0.2 0.0,1.2" fill="#b8903e" /><polygon points="-8.8,0.5 -10.8,-0.5 -10.8,-4.5 -8.8,-3.5" fill="#b8903e" /><polygon points="-17.6,-4.2 -19.6,-5.2 -19.6,-9.2 -17.6,-8.2" fill="#b8903e" /><polygon points="0.0,5.2 2.0,4.0 2.0,0.0 0.0,1.2" fill="#c9a24c" /><polygon points="5.4,2.2 7.4,1.0 7.4,-3.0 5.4,-1.8" fill="#c9a24c" /><polygon points="10.8,-0.8 12.8,-2.0 12.8,-6.0 10.8,-4.8" fill="#c9a24c" /><polygon points="4.4,-28.0 9.2,-28.0 9.2,-22.0 4.4,-22.0" fill="#3f5c8c" /><polygon points="3.6,-37.5 9.4,-37.8 10.0,-26.5 4.2,-26.5" fill="#8a6436" /><polygon points="4.6,-36.0 8.4,-36.2 8.8,-26.5 5.0,-26.5" fill="#3f5c8c" /><circle cx="6.5" cy="-40.6" r="2.0" fill="#a06c3c" /><path d="M4.4 -41 a2.2 2.4 0 0 1 4.4 -0.2z" fill="#4a2e16"/><polygon points="-5.6,-2.8 -17.6,-8.8 -17.6,-21.0 -5.6,-15.0" fill="#b0883f" /><polygon points="-5.6,-2.8 6.0,-8.8 6.0,-21.0 -5.6,-15.0" fill="#c79e52" /><polygon points="-5.6,-15.0 -17.6,-21.0 -6.0,-27.0 6.0,-21.0" fill="#e0bc6e" /><polygon points="0.0,0.0 -5.6,-2.8 -5.6,-21.1 0.0,-18.3" fill="#b48a40" /><polygon points="0.0,0.0 11.6,-6.0 11.6,-24.3 0.0,-18.3" fill="#c79e52" /><polygon points="0.0,-18.3 -5.6,-21.1 6.0,-27.1 11.6,-24.3" fill="#dcb666" /><line x1="-11.6" y1="-5.8" x2="-11.6" y2="-18.0" stroke="#96742f" stroke-width="0.5" /><line x1="-5.6" y1="-8.9" x2="-17.6" y2="-14.9" stroke="#96742f" stroke-width="0.5" /><line x1="0.0" y1="-6.1" x2="11.6" y2="-12.1" stroke="#a9853c" stroke-width="0.5" /><line x1="0.0" y1="-6.1" x2="-5.6" y2="-8.9" stroke="#96742f" stroke-width="0.5" /><line x1="0.0" y1="-12.2" x2="11.6" y2="-18.2" stroke="#a9853c" stroke-width="0.5" /><line x1="0.0" y1="-12.2" x2="-5.6" y2="-15.0" stroke="#96742f" stroke-width="0.5" /><line x1="5.8" y1="-3.0" x2="5.8" y2="-21.3" stroke="#b8924a" stroke-width="0.4" /><polygon points="2.3,-4.8 4.5,-6.0 4.5,-4.8 2.3,-3.7" fill="#33291a" /><polygon points="2.3,-10.9 4.5,-12.0 4.5,-10.9 2.3,-9.7" fill="#33291a" /><polygon points="2.3,-17.0 4.5,-18.1 4.5,-17.0 2.3,-15.8" fill="#33291a" /><polygon points="8.1,-7.8 10.3,-8.9 10.3,-7.8 8.1,-6.6" fill="#33291a" /><polygon points="8.1,-13.9 10.3,-15.0 10.3,-13.9 8.1,-12.7" fill="#33291a" /><polygon points="8.1,-20.0 10.3,-21.1 10.3,-20.0 8.1,-18.9" fill="#33291a" /><polygon points="-9.2,-6.8 -11.4,-7.9 -11.4,-9.3 -9.2,-8.2" fill="#5e4a22" /><polygon points="-9.2,-12.9 -11.4,-14.0 -11.4,-15.4 -9.2,-14.3" fill="#5e4a22" /><polygon points="-15.2,-9.8 -17.4,-10.9 -17.4,-12.3 -15.2,-11.2" fill="#5e4a22" /><polygon points="-15.2,-15.9 -17.4,-17.0 -17.4,-18.4 -15.2,-17.3" fill="#5e4a22" /><polygon points="-2.0,-9.3 -4.0,-10.3 -4.0,-11.7 -2.0,-10.7" fill="#5e4a22" /><polygon points="-2.0,-15.4 -4.0,-16.4 -4.0,-17.8 -2.0,-16.8" fill="#5e4a22" /><polygon points="1.6,-25.6 -2.8,-28.0 -2.8,-33.8 1.6,-31.4" fill="#b0883f" /><polygon points="1.6,-25.6 6.4,-28.0 6.4,-33.8 1.6,-31.4" fill="#c79e52" /><polygon points="1.6,-31.4 -2.8,-33.8 2.0,-36.2 6.4,-33.8" fill="#d5b062" /><polygon points="-26.0,-7.2 -32.0,-10.6 -32.0,-17.6 -26.0,-14.2" fill="#b0883f" /><polygon points="-26.0,-7.2 -20.4,-10.2 -20.4,-17.2 -26.0,-14.2" fill="#c79e52" /><polygon points="-26.0,-14.2 -32.0,-17.6 -26.4,-20.6 -20.4,-17.2" fill="#d5b062" /><polygon points="-22.9,-13.2 -21.2,-14.1 -21.2,-13.2 -22.9,-12.3" fill="#3a3326" /><polygon points="18.0,-0.4 12.0,-3.8 12.0,-10.8 18.0,-7.4" fill="#b0883f" /><polygon points="18.0,-0.4 23.6,-3.4 23.6,-10.4 18.0,-7.4" fill="#c79e52" /><polygon points="18.0,-7.4 12.0,-10.8 17.6,-13.8 23.6,-10.4" fill="#d5b062" /><polygon points="21.1,-6.4 22.8,-7.3 22.8,-6.5 21.1,-5.6" fill="#3a3326" /></g><g transform="translate(217.1 461.0) scale(1.340)"><polygon points="0.0,5.2 -19.6,-5.2 -19.6,-9.2 0.0,1.2" fill="#7d6f52" /><polygon points="0.0,5.2 12.8,-2.0 12.8,-6.0 0.0,1.2" fill="#8c7c5a" /><polygon points="0.0,1.2 -19.6,-9.2 -6.8,-16.4 12.8,-6.0" fill="#d2b062" /><polygon points="0.0,5.2 -19.6,-5.2 -19.6,-7.0 0.0,3.4" fill="#c19a48" /><polygon points="0.0,5.2 12.8,-2.0 12.8,-3.8 0.0,3.4" fill="#d0aa54" /><polygon points="0.0,5.2 -2.0,4.2 -2.0,0.2 0.0,1.2" fill="#b8903e" /><polygon points="-8.8,0.5 -10.8,-0.5 -10.8,-4.5 -8.8,-3.5" fill="#b8903e" /><polygon points="-17.6,-4.2 -19.6,-5.2 -19.6,-9.2 -17.6,-8.2" fill="#b8903e" /><polygon points="0.0,5.2 2.0,4.0 2.0,0.0 0.0,1.2" fill="#c9a24c" /><polygon points="5.4,2.2 7.4,1.0 7.4,-3.0 5.4,-1.8" fill="#c9a24c" /><polygon points="10.8,-0.8 12.8,-2.0 12.8,-6.0 10.8,-4.8" fill="#c9a24c" /><polygon points="4.4,-28.0 9.2,-28.0 9.2,-22.0 4.4,-22.0" fill="#3f5c8c" /><polygon points="3.6,-37.5 9.4,-37.8 10.0,-26.5 4.2,-26.5" fill="#8a6436" /><polygon points="4.6,-36.0 8.4,-36.2 8.8,-26.5 5.0,-26.5" fill="#3f5c8c" /><circle cx="6.5" cy="-40.6" r="2.0" fill="#a06c3c" /><path d="M4.4 -41 a2.2 2.4 0 0 1 4.4 -0.2z" fill="#4a2e16"/><polygon points="-5.6,-2.8 -17.6,-8.8 -17.6,-21.0 -5.6,-15.0" fill="#b0883f" /><polygon points="-5.6,-2.8 6.0,-8.8 6.0,-21.0 -5.6,-15.0" fill="#c79e52" /><polygon points="-5.6,-15.0 -17.6,-21.0 -6.0,-27.0 6.0,-21.0" fill="#e0bc6e" /><polygon points="0.0,0.0 -5.6,-2.8 -5.6,-21.1 0.0,-18.3" fill="#b48a40" /><polygon points="0.0,0.0 11.6,-6.0 11.6,-24.3 0.0,-18.3" fill="#c79e52" /><polygon points="0.0,-18.3 -5.6,-21.1 6.0,-27.1 11.6,-24.3" fill="#dcb666" /><line x1="-11.6" y1="-5.8" x2="-11.6" y2="-18.0" stroke="#96742f" stroke-width="0.5" /><line x1="-5.6" y1="-8.9" x2="-17.6" y2="-14.9" stroke="#96742f" stroke-width="0.5" /><line x1="0.0" y1="-6.1" x2="11.6" y2="-12.1" stroke="#a9853c" stroke-width="0.5" /><line x1="0.0" y1="-6.1" x2="-5.6" y2="-8.9" stroke="#96742f" stroke-width="0.5" /><line x1="0.0" y1="-12.2" x2="11.6" y2="-18.2" stroke="#a9853c" stroke-width="0.5" /><line x1="0.0" y1="-12.2" x2="-5.6" y2="-15.0" stroke="#96742f" stroke-width="0.5" /><line x1="5.8" y1="-3.0" x2="5.8" y2="-21.3" stroke="#b8924a" stroke-width="0.4" /><polygon points="2.3,-4.8 4.5,-6.0 4.5,-4.8 2.3,-3.7" fill="#33291a" /><polygon points="2.3,-10.9 4.5,-12.0 4.5,-10.9 2.3,-9.7" fill="#33291a" /><polygon points="2.3,-17.0 4.5,-18.1 4.5,-17.0 2.3,-15.8" fill="#33291a" /><polygon points="8.1,-7.8 10.3,-8.9 10.3,-7.8 8.1,-6.6" fill="#33291a" /><polygon points="8.1,-13.9 10.3,-15.0 10.3,-13.9 8.1,-12.7" fill="#33291a" /><polygon points="8.1,-20.0 10.3,-21.1 10.3,-20.0 8.1,-18.9" fill="#33291a" /><polygon points="-9.2,-6.8 -11.4,-7.9 -11.4,-9.3 -9.2,-8.2" fill="#5e4a22" /><polygon points="-9.2,-12.9 -11.4,-14.0 -11.4,-15.4 -9.2,-14.3" fill="#5e4a22" /><polygon points="-15.2,-9.8 -17.4,-10.9 -17.4,-12.3 -15.2,-11.2" fill="#5e4a22" /><polygon points="-15.2,-15.9 -17.4,-17.0 -17.4,-18.4 -15.2,-17.3" fill="#5e4a22" /><polygon points="-2.0,-9.3 -4.0,-10.3 -4.0,-11.7 -2.0,-10.7" fill="#5e4a22" /><polygon points="-2.0,-15.4 -4.0,-16.4 -4.0,-17.8 -2.0,-16.8" fill="#5e4a22" /><polygon points="1.6,-25.6 -2.8,-28.0 -2.8,-33.8 1.6,-31.4" fill="#b0883f" /><polygon points="1.6,-25.6 6.4,-28.0 6.4,-33.8 1.6,-31.4" fill="#c79e52" /><polygon points="1.6,-31.4 -2.8,-33.8 2.0,-36.2 6.4,-33.8" fill="#d5b062" /><polygon points="-26.0,-7.2 -32.0,-10.6 -32.0,-17.6 -26.0,-14.2" fill="#b0883f" /><polygon points="-26.0,-7.2 -20.4,-10.2 -20.4,-17.2 -26.0,-14.2" fill="#c79e52" /><polygon points="-26.0,-14.2 -32.0,-17.6 -26.4,-20.6 -20.4,-17.2" fill="#d5b062" /><polygon points="-22.9,-13.2 -21.2,-14.1 -21.2,-13.2 -22.9,-12.3" fill="#3a3326" /><polygon points="18.0,-0.4 12.0,-3.8 12.0,-10.8 18.0,-7.4" fill="#b0883f" /><polygon points="18.0,-0.4 23.6,-3.4 23.6,-10.4 18.0,-7.4" fill="#c79e52" /><polygon points="18.0,-7.4 12.0,-10.8 17.6,-13.8 23.6,-10.4" fill="#d5b062" /><polygon points="21.1,-6.4 22.8,-7.3 22.8,-6.5 21.1,-5.6" fill="#3a3326" /></g><line x1="579.2" y1="182.0" x2="579.2" y2="226.0" stroke="#f0923a" stroke-width="1.2" /><line x1="589.2" y1="190.6" x2="589.2" y2="233.7" stroke="#f0923a" stroke-width="1.3" /><polygon points="543.3,246.3 553.2,251.9 589.2,232.7 579.2,227.1" fill="#f1ece4" /><polygon points="575.0,237.7 565.5,232.5 565.5,231.2 575.0,236.4" fill="#b98a3a" /><polygon points="575.0,237.7 587.9,230.8 587.9,229.5 575.0,236.4" fill="#c99a48" /><polygon points="575.0,236.4 565.5,231.2 578.4,224.3 587.9,229.5" fill="#d9a84e" /><polygon points="543.3,226.3 553.2,231.9 589.2,212.7 579.2,207.1" fill="#f6eee2" /><line x1="543.3" y1="226.3" x2="553.2" y2="231.9" stroke="#f0923a" stroke-width="1.1" /><line x1="553.2" y1="231.9" x2="589.2" y2="212.7" stroke="#f0923a" stroke-width="1.1" /><polygon points="558.5,229.5 548.7,224.1 548.7,222.6 558.5,228.0" fill="#b98a3a" /><polygon points="558.5,229.5 569.5,223.6 569.5,222.1 558.5,228.0" fill="#c99a48" /><polygon points="558.5,228.0 548.7,222.6 559.7,216.7 569.5,222.1" fill="#d9a84e" /><polygon points="558.5,228.0 549.7,223.1 549.7,210.1 558.5,215.0" fill="#ecd0a4" /><polygon points="558.5,228.0 568.7,222.5 568.7,209.5 558.5,215.0" fill="#f8ecd8" /><polygon points="558.5,215.0 549.7,210.1 559.9,204.6 568.7,209.5" fill="#ddb067" /><polygon points="562.0,219.0 564.5,217.7 564.5,219.3 562.0,220.6" fill="#8a93a8" /><polygon points="543.3,205.8 553.2,211.4 589.2,192.2 579.2,186.6" fill="#f6eee2" /><line x1="543.3" y1="205.8" x2="553.2" y2="211.4" stroke="#f0923a" stroke-width="1.1" /><line x1="553.2" y1="211.4" x2="589.2" y2="192.2" stroke="#f0923a" stroke-width="1.1" /><polygon points="573.5,201.5 563.7,196.1 563.7,194.6 573.5,200.0" fill="#b98a3a" /><polygon points="573.5,201.5 584.5,195.6 584.5,194.1 573.5,200.0" fill="#c99a48" /><polygon points="573.5,200.0 563.7,194.6 574.7,188.7 584.5,194.1" fill="#d9a84e" /><polygon points="573.5,200.0 564.2,194.8 564.2,181.8 573.5,187.0" fill="#ecd0a4" /><polygon points="573.5,200.0 583.7,194.5 583.7,181.5 573.5,187.0" fill="#f8ecd8" /><polygon points="573.5,187.0 564.2,181.8 574.4,176.3 583.7,181.5" fill="#ddb067" /><polygon points="577.0,190.5 579.5,189.2 579.5,190.8 577.0,192.1" fill="#8a93a8" /><polygon points="558.5,210.0 548.7,204.6 548.7,203.1 558.5,208.5" fill="#b98a3a" /><polygon points="558.5,210.0 569.5,204.1 569.5,202.6 558.5,208.5" fill="#c99a48" /><polygon points="558.5,208.5 548.7,203.1 559.7,197.2 569.5,202.6" fill="#d9a84e" /><polygon points="558.5,208.5 549.2,203.3 549.2,191.0 558.5,196.2" fill="#ecd0a4" /><polygon points="558.5,208.5 569.0,202.8 569.0,190.5 558.5,196.2" fill="#f8ecd8" /><polygon points="558.5,196.2 549.2,191.0 559.7,185.3 569.0,190.5" fill="#ddb067" /><polygon points="562.0,199.0 564.5,197.7 564.5,199.3 562.0,200.6" fill="#8a93a8" /><line x1="543.3" y1="246.3" x2="553.2" y2="251.9" stroke="#f0923a" stroke-width="1.1" /><line x1="553.2" y1="251.9" x2="589.2" y2="232.7" stroke="#f0923a" stroke-width="1.1" /><line x1="543.3" y1="203.5" x2="543.3" y2="249.5" stroke="#f0923a" stroke-width="1.3" /><line x1="553.2" y1="209.0" x2="553.2" y2="254.8" stroke="#e07d22" stroke-width="1.6" /><rect x="560.2" y="252.2" width="1.6" height="11.1" fill="#2f64b4" rx="0.0"/><rect x="562.1" y="252.2" width="1.6" height="11.1" fill="#2f64b4" rx="0.0"/><rect x="560.0" y="263.0" width="2.0" height="1.0" fill="#222" rx="0.0"/><rect x="562.1" y="263.0" width="2.0" height="1.0" fill="#222" rx="0.0"/><rect x="559.8" y="245.1" width="4.3" height="7.8" fill="#f08a1c" rx="1.0"/><rect x="560.6" y="246.0" width="2.9" height="6.9" fill="#2f64b4" rx="0.3"/><circle cx="562.0" cy="243.6" r="1.6" fill="#e8b88a" /><path d="M559.9 243.1 a2.1 2.2 0 0 1 4.2 0 z" fill="#f5a623"/><polygon points="563.5,246.5 568.0,242.3 569.0,243.3 564.5,248.0" fill="#f08a1c" /><polygon points="567.8,241.0 569.3,240.4 569.6,242.5 568.2,243.0" fill="#222" /><polygon points="596.0,222.0 603.0,218.2 613.5,224.2 606.5,228.0" fill="#f7d038" /><polygon points="600.5,224.5 606.5,228.0 606.5,243.0 600.5,239.5" fill="#58b7e0" /><polygon points="606.5,228.0 613.5,224.2 613.5,238.5 606.5,243.0" fill="#8fd0ec" /><line x1="606.5" y1="228.0" x2="606.5" y2="244.0" stroke="#f2c21a" stroke-width="0.9" /><polygon points="604.5,241.5 613.5,236.5 617.6,239.0 617.6,245.5 607.5,250.5 604.5,249.0" fill="#f5c518" /><polygon points="613.5,231.0 617.6,233.3 617.6,239.2 613.5,236.8" fill="#f9d648" /><polygon points="595.0,223.5 596.8,222.5 596.8,243.5 595.0,244.5" fill="#1e1e1e" /><polygon points="600.5,226.5 602.0,225.6 602.0,246.0 600.5,247.0" fill="#1e1e1e" /><polygon points="595.0,223.5 600.5,226.5 600.5,228.0 595.0,225.0" fill="#1e1e1e" /><ellipse cx="608.5" cy="247.8" rx="2.0" ry="2.4" fill="#1c1c1c" /><ellipse cx="608.8" cy="247.8" rx="0.9" ry="1.1" fill="#a9a9a9" /><ellipse cx="616.3" cy="243.6" rx="1.5" ry="1.8" fill="#1c1c1c" /><ellipse cx="616.6" cy="243.6" rx="0.7" ry="0.8" fill="#a9a9a9" /><polygon points="592.8,258.5 582.0,252.7 582.0,238.2 592.8,244.0" fill="#e3c48c" /><polygon points="592.8,258.5 605.1,251.9 605.1,237.4 592.8,244.0" fill="#edd6a8" /><polygon points="592.8,244.0 582.0,238.2 594.3,231.6 605.1,237.4" fill="#e4b45c" /><line x1="582.0" y1="241.1" x2="592.8" y2="246.9" stroke="#d2b078" stroke-width="0.35" /><line x1="592.8" y1="246.9" x2="605.1" y2="240.3" stroke="#e0c694" stroke-width="0.35" /><line x1="582.0" y1="244.0" x2="592.8" y2="249.8" stroke="#d2b078" stroke-width="0.35" /><line x1="592.8" y1="249.8" x2="605.1" y2="243.2" stroke="#e0c694" stroke-width="0.35" /><line x1="582.0" y1="246.9" x2="592.8" y2="252.7" stroke="#d2b078" stroke-width="0.35" /><line x1="592.8" y1="252.7" x2="605.1" y2="246.1" stroke="#e0c694" stroke-width="0.35" /><line x1="582.0" y1="249.8" x2="592.8" y2="255.6" stroke="#d2b078" stroke-width="0.35" /><line x1="592.8" y1="255.6" x2="605.1" y2="249.0" stroke="#e0c694" stroke-width="0.35" /><polygon points="560.0,355.5 548.2,348.6 548.2,346.2 560.0,353.1" fill="#a8802e" /><polygon points="560.0,355.5 575.2,345.2 575.2,342.8 560.0,353.1" fill="#b88c36" /><polygon points="560.0,353.1 548.2,346.2 563.4,335.9 575.2,342.8" fill="#d0a848" /><polygon points="560.5,352.5 549.2,345.9 549.2,324.6 560.5,331.2" fill="#c79c4c" /><polygon points="560.5,352.5 575.2,342.6 575.2,321.3 560.5,331.2" fill="#b88a3c" /><polygon points="560.5,331.2 549.2,324.6 563.9,314.7 575.2,321.3" fill="#ddb768" /><polygon points="561.7,351.7 563.4,350.5 563.4,329.2 561.7,330.4" fill="#93a894" /><polygon points="561.7,330.4 563.4,329.2 552.1,322.6 550.4,323.8" fill="#b5c6b2" /><polygon points="571.1,345.4 572.8,344.2 572.8,322.9 571.1,324.1" fill="#93a894" /><polygon points="571.1,324.1 572.8,322.9 561.5,316.3 559.8,317.5" fill="#b5c6b2" /><line x1="549.2" y1="342.3" x2="560.5" y2="348.9" stroke="#a88038" stroke-width="0.4" /><line x1="560.5" y1="348.9" x2="575.2" y2="339.0" stroke="#a07830" stroke-width="0.4" /><line x1="549.2" y1="337.0" x2="560.5" y2="343.6" stroke="#a88038" stroke-width="0.4" /><line x1="560.5" y1="343.6" x2="575.2" y2="333.7" stroke="#a07830" stroke-width="0.4" /><line x1="549.2" y1="331.6" x2="560.5" y2="338.2" stroke="#a88038" stroke-width="0.4" /><line x1="560.5" y1="338.2" x2="575.2" y2="328.3" stroke="#a07830" stroke-width="0.4" /><polygon points="568.3,315.5 570.5,314.3 572.3,315.2 572.3,322.0 568.3,320.0" fill="#1c1c1c" /><polygon points="575.2,319.0 577.5,317.8 577.5,346.5 575.2,345.5" fill="#1b1b1b" /><polygon points="577.5,317.5 589.0,311.3 599.5,317.5 588.0,324.0" fill="#f5c518" /><polygon points="580.5,318.5 585.0,316.0 587.5,317.3 583.0,319.8" fill="#f3efd8" /><polygon points="585.5,316.0 590.0,313.5 592.5,314.8 588.0,317.3" fill="#f3efd8" /><polygon points="577.5,319.2 586.5,324.0 585.0,340.0 577.5,343.5" fill="#1f1f1f" /><polygon points="578.8,321.0 585.2,324.6 583.8,338.6 578.8,340.8" fill="#bfe3ef" /><polygon points="577.5,341.5 585.0,338.5 589.0,345.5 583.0,350.0 577.5,347.0" fill="#242424" /><polygon points="588.0,324.0 599.5,317.5 607.0,322.5 607.0,333.0 589.0,345.5 584.8,343.0" fill="#f2c010" /><polygon points="586.3,324.2 588.0,324.0 586.5,342.0 584.8,343.0" fill="#e0ae08" /><polygon points="589.5,325.5 598.0,320.8 598.0,328.0 589.5,333.0" fill="#2a2a2a" /><polygon points="599.5,317.5 607.0,322.5 607.0,326.0 599.5,321.5" fill="#2a2a2a" /><polygon points="590.5,326.5 593.5,322.5 595.0,326.5 592.0,331.0" fill="#6a4a3a" /><circle cx="592.3" cy="323.8" r="1.5" fill="#e2b48c" /><polygon points="589.0,331.5 594.5,328.5 595.5,330.0 590.0,333.0" fill="#e8602a" /><path d="M592.5 333.5 Q600 326.5 607 328.5 L607 331 Q600 329.5 594 336.5 Z" fill="#222"/><polygon points="586.0,343.5 598.5,336.0 599.0,339.5 589.0,345.8" fill="#2a2a2a" /><ellipse cx="581.8" cy="346.3" rx="3.1" ry="3.6" fill="#1c1c1c" /><ellipse cx="582.1" cy="346.3" rx="1.4" ry="1.6" fill="#a9a9a9" /><ellipse cx="602.6" cy="336.5" rx="3.1" ry="3.6" fill="#1c1c1c" /><ellipse cx="602.9" cy="336.5" rx="1.4" ry="1.6" fill="#a9a9a9" /><line x1="765.7" y1="419.4" x2="765.7" y2="385.9" stroke="#f0923a" stroke-width="1.0" /><line x1="773.0" y1="423.3" x2="773.0" y2="389.8" stroke="#f0923a" stroke-width="1.1" /><polygon points="746.8,431.4 739.5,427.5 765.7,412.9 773.0,416.8" fill="#f4ede2" /><polygon points="752.0,432.8 745.3,429.3 745.3,428.4 752.0,431.9" fill="#b98a3a" /><polygon points="752.0,432.8 761.3,427.6 761.3,426.7 752.0,431.9" fill="#c99a48" /><polygon points="752.0,431.9 745.3,428.4 754.6,423.2 761.3,426.7" fill="#d9a84e" /><polygon points="763.5,424.8 756.2,421.0 756.2,420.1 763.5,423.9" fill="#b98a3a" /><polygon points="763.5,424.8 773.0,419.6 773.0,418.7 763.5,423.9" fill="#c99a48" /><polygon points="763.5,423.9 756.2,420.1 765.7,414.9 773.0,418.7" fill="#d9a84e" /><line x1="739.5" y1="427.5" x2="746.8" y2="431.4" stroke="#f0923a" stroke-width="1.0" /><line x1="746.8" y1="431.4" x2="773.0" y2="416.8" stroke="#f0923a" stroke-width="1.0" /><polygon points="746.8,417.9 739.5,414.0 765.7,399.4 773.0,403.3" fill="#f4ede2" /><polygon points="750.5,418.0 743.4,414.2 743.4,413.0 750.5,416.8" fill="#b98a3a" /><polygon points="750.5,418.0 759.8,412.8 759.8,411.6 750.5,416.8" fill="#c99a48" /><polygon points="750.5,416.8 743.4,413.0 752.7,407.8 759.8,411.6" fill="#d9a84e" /><polygon points="750.5,416.8 743.9,413.3 743.9,405.3 750.5,408.8" fill="#ecd0a4" /><polygon points="750.5,416.8 759.1,412.0 759.1,404.0 750.5,408.8" fill="#f8ecd8" /><polygon points="750.5,408.8 743.9,405.3 752.5,400.5 759.1,404.0" fill="#ddb067" /><polygon points="753.5,410.7 755.7,409.5 755.7,410.9 753.5,412.1" fill="#8a93a8" /><line x1="739.5" y1="414.0" x2="746.8" y2="417.9" stroke="#f0923a" stroke-width="1.0" /><line x1="746.8" y1="417.9" x2="773.0" y2="403.3" stroke="#f0923a" stroke-width="1.0" /><polygon points="746.8,405.9 739.5,402.0 765.7,387.4 773.0,391.3" fill="#f4ede2" /><polygon points="761.8,399.7 754.7,395.9 754.7,394.7 761.8,398.5" fill="#b98a3a" /><polygon points="761.8,399.7 769.9,395.2 769.9,394.0 761.8,398.5" fill="#c99a48" /><polygon points="761.8,398.5 754.7,394.7 762.8,390.2 769.9,394.0" fill="#d9a84e" /><polygon points="761.8,398.5 755.2,395.0 755.2,385.2 761.8,388.7" fill="#ecd0a4" /><polygon points="761.8,398.5 769.3,394.3 769.3,384.5 761.8,388.7" fill="#f8ecd8" /><polygon points="761.8,388.7 755.2,385.2 762.7,381.0 769.3,384.5" fill="#ddb067" /><polygon points="764.4,391.6 766.6,390.4 766.6,391.8 764.4,393.0" fill="#8a93a8" /><polygon points="750.5,405.5 743.4,401.7 743.4,400.5 750.5,404.3" fill="#b98a3a" /><polygon points="750.5,405.5 759.0,400.7 759.0,399.5 750.5,404.3" fill="#c99a48" /><polygon points="750.5,404.3 743.4,400.5 751.9,395.8 759.0,399.5" fill="#d9a84e" /><polygon points="750.5,404.3 743.9,400.8 743.9,391.2 750.5,394.7" fill="#ecd0a4" /><polygon points="750.5,404.3 758.4,399.9 758.4,390.3 750.5,394.7" fill="#f8ecd8" /><polygon points="750.5,394.7 743.9,391.2 751.8,386.8 758.4,390.3" fill="#ddb067" /><polygon points="753.3,397.5 755.5,396.3 755.5,397.7 753.3,398.9" fill="#8a93a8" /><line x1="739.5" y1="402.0" x2="746.8" y2="405.9" stroke="#f0923a" stroke-width="1.0" /><line x1="746.8" y1="405.9" x2="773.0" y2="391.3" stroke="#f0923a" stroke-width="1.0" /><line x1="739.5" y1="434.0" x2="739.5" y2="400.5" stroke="#f0923a" stroke-width="1.1" /><line x1="746.8" y1="437.9" x2="746.8" y2="404.4" stroke="#e07d22" stroke-width="1.4" /><line x1="797.4" y1="399.5" x2="797.4" y2="367.0" stroke="#f0923a" stroke-width="1.0" /><line x1="804.6" y1="403.3" x2="804.6" y2="370.8" stroke="#f0923a" stroke-width="1.1" /><polygon points="778.0,411.3 770.8,407.5 797.4,392.5 804.6,396.3" fill="#f4ede2" /><polygon points="787.0,410.3 781.0,407.1 781.0,400.6 787.0,403.8" fill="#c9923c" /><polygon points="787.0,410.3 803.5,401.0 803.5,394.5 787.0,403.8" fill="#daa850" /><polygon points="787.0,403.8 781.0,400.6 797.5,391.3 803.5,394.5" fill="#e3b662" /><line x1="770.8" y1="407.5" x2="778.0" y2="411.3" stroke="#f0923a" stroke-width="1.0" /><line x1="778.0" y1="411.3" x2="804.6" y2="396.3" stroke="#f0923a" stroke-width="1.0" /><polygon points="778.0,398.3 770.8,394.5 797.4,379.5 804.6,383.3" fill="#f4ede2" /><polygon points="780.0,393.8 774.4,390.8 774.4,385.8 780.0,388.8" fill="#c9923c" /><polygon points="780.0,393.8 784.6,391.2 784.6,386.2 780.0,388.8" fill="#daa850" /><polygon points="780.0,388.8 774.4,385.8 779.0,383.2 784.6,386.2" fill="#e3b662" /><polygon points="798.0,393.8 792.6,390.9 792.6,384.9 798.0,387.8" fill="#c9923c" /><polygon points="798.0,393.8 803.5,390.7 803.5,384.7 798.0,387.8" fill="#daa850" /><polygon points="798.0,387.8 792.6,384.9 798.1,381.8 803.5,384.7" fill="#e3b662" /><line x1="770.8" y1="394.5" x2="778.0" y2="398.3" stroke="#f0923a" stroke-width="1.0" /><line x1="778.0" y1="398.3" x2="804.6" y2="383.3" stroke="#f0923a" stroke-width="1.0" /><polygon points="778.0,387.3 770.8,383.5 797.4,368.5 804.6,372.3" fill="#f4ede2" /><polygon points="788.2,379.8 781.7,376.4 781.7,370.4 788.2,373.8" fill="#c9923c" /><polygon points="788.2,379.8 800.5,372.9 800.5,366.9 788.2,373.8" fill="#daa850" /><polygon points="788.2,373.8 781.7,370.4 794.0,363.5 800.5,366.9" fill="#e3b662" /><line x1="770.8" y1="383.5" x2="778.0" y2="387.3" stroke="#f0923a" stroke-width="1.0" /><line x1="778.0" y1="387.3" x2="804.6" y2="372.3" stroke="#f0923a" stroke-width="1.0" /><line x1="770.8" y1="414.5" x2="770.8" y2="382.0" stroke="#f0923a" stroke-width="1.1" /><line x1="778.0" y1="418.3" x2="778.0" y2="385.8" stroke="#e07d22" stroke-width="1.4" /><polygon points="789.0,405.2 791.0,404.1 791.0,405.5 789.0,406.6" fill="#f2f2f2" /><polygon points="794.5,402.0 796.5,400.9 796.5,402.3 794.5,403.4" fill="#f2f2f2" /><polygon points="800.0,398.9 802.0,397.8 802.0,399.2 800.0,400.3" fill="#f2f2f2" /><polygon points="781.2,390.5 783.2,389.4 783.2,390.8 781.2,391.9" fill="#f2f2f2" /><polygon points="800.0,388.2 802.0,387.1 802.0,388.5 800.0,389.6" fill="#f2f2f2" /><polygon points="790.0,375.2 792.0,374.1 792.0,375.5 790.0,376.6" fill="#f2f2f2" /><polygon points="796.0,371.8 798.0,370.7 798.0,372.1 796.0,373.2" fill="#f2f2f2" /><polygon points="796.7,466.8 806.5,461.8 821.6,469.6 810.5,476.2" fill="#d6454a" /><polygon points="810.5,476.2 821.6,469.6 822.9,487.0 810.5,493.2" fill="#c5383e" /><polygon points="804.0,472.0 810.5,476.2 810.5,493.2 804.0,489.5" fill="#a82a30" /><polygon points="816.5,474.5 820.5,472.3 821.0,478.0 816.8,480.3" fill="#2a2440" /><line x1="812.2" y1="471.0" x2="812.2" y2="488.0" stroke="#d8d8dc" stroke-width="1.0" /><line x1="798.5" y1="462.0" x2="798.5" y2="466.0" stroke="#bbb" stroke-width="0.6" /><polygon points="822.2,475.5 823.6,474.8 823.6,479.3 822.2,480.0" fill="#cfd6dc" /><polygon points="777.1,507.6 807.2,489.9 810.5,491.5 810.5,495.0 779.0,512.5 777.1,511.5" fill="#2a2c34" /><ellipse cx="783.5" cy="510.0" rx="2.2" ry="2.6" fill="#1c1c1c" /><ellipse cx="783.8" cy="510.0" rx="1.0" ry="1.2" fill="#a9a9a9" /><ellipse cx="789.0" cy="506.8" rx="2.2" ry="2.6" fill="#1c1c1c" /><ellipse cx="789.3" cy="506.8" rx="1.0" ry="1.2" fill="#a9a9a9" /><ellipse cx="797.0" cy="502.0" rx="2.2" ry="2.6" fill="#1c1c1c" /><ellipse cx="797.3" cy="502.0" rx="1.0" ry="1.2" fill="#a9a9a9" /><ellipse cx="804.0" cy="498.0" rx="2.2" ry="2.6" fill="#1c1c1c" /><ellipse cx="804.3" cy="498.0" rx="1.0" ry="1.2" fill="#a9a9a9" /><ellipse cx="818.0" cy="489.5" rx="2.4" ry="2.8" fill="#1c1c1c" /><ellipse cx="818.3" cy="489.5" rx="1.1" ry="1.3" fill="#a9a9a9" /><polygon points="763.3,484.0 777.1,491.9 777.1,507.6 763.3,499.6" fill="#b9bfcc" /><polygon points="764.6,498.5 776.0,505.0 776.0,492.0 764.6,485.5" fill="#e3e6ed" /><polygon points="764.6,498.5 776.0,505.0 776.0,501.0 764.6,494.5" fill="#9aa2b6" /><polygon points="765.5,494.0 770.2,491.8 774.5,494.2 769.8,496.4" fill="#f0dcb8" /><polygon points="765.5,494.0 769.8,496.4 769.8,500.5 765.5,498.2" fill="#dfc08c" /><polygon points="769.8,496.4 774.5,494.2 774.5,498.3 769.8,500.5" fill="#ead0a0" /><polygon points="768.5,490.8 772.5,489.0 776.0,491.0 772.0,492.8" fill="#f0dcb8" /><polygon points="770.0,499.0 773.2,497.4 776.0,499.0 772.8,500.6" fill="#ecd4a6" /><polygon points="770.0,499.0 772.8,500.6 772.8,503.5 770.0,502.0" fill="#d9b880" /><polygon points="757.4,484.0 763.3,485.3 763.3,498.4 757.4,495.8" fill="#c3c8d4" /><defs><linearGradient id="gtr" x1="0" y1="0" x2="1" y2="0"><stop offset="0" stop-color="#dcdfe6"/><stop offset="1" stop-color="#c3c7d2"/></linearGradient></defs><polygon points="777.1,491.9 807.2,475.5 807.2,489.9 777.1,507.6" fill="url(#gtr)" /><line x1="777.5" y1="507.0" x2="807.0" y2="489.6" stroke="#e0c040" stroke-width="0.6" /><polygon points="763.3,484.0 794.1,467.0 807.2,475.5 777.1,491.9" fill="#e6e7ea" /><line x1="777.1" y1="491.9" x2="777.1" y2="507.6" stroke="#eceef2" stroke-width="0.8" /><polygon points="762.5,499.5 777.5,508.0 777.5,510.5 762.5,502.0" fill="#2a2c34" /><polygon points="764.0,502.5 768.0,504.8 768.0,507.5 764.0,505.2" fill="#1a1a1e" /><polygon points="773.0,507.5 777.0,509.8 777.0,512.5 773.0,510.2" fill="#1a1a1e" /><rect x="786.4" y="510.0" width="1.5" height="10.4" fill="#f08a1c" rx="0.0"/><rect x="788.1" y="510.0" width="1.5" height="10.4" fill="#f08a1c" rx="0.0"/><rect x="786.2" y="520.1" width="1.8" height="0.9" fill="#444" rx="0.0"/><rect x="788.1" y="520.1" width="1.8" height="0.9" fill="#444" rx="0.0"/><rect x="785.1" y="503.7" width="1.2" height="6.4" fill="#3aa7b8" rx="0.6"/><rect x="789.7" y="503.7" width="1.2" height="6.4" fill="#3aa7b8" rx="0.6"/><rect x="786.0" y="503.3" width="4.0" height="7.3" fill="#3aa7b8" rx="1.0"/><circle cx="788.0" cy="501.9" r="1.5" fill="#e8b88a" /><path d="M786.4 501.6 a1.7 1.8 0 0 1 3.3 0 z" fill="#5a3420"/><polygon points="789.5,502.5 792.3,501.3 794.0,502.3 791.2,503.6" fill="#f3dfbd" /><polygon points="789.5,502.5 791.2,503.6 791.2,506.4 789.5,505.4" fill="#e4c694" /><polygon points="791.2,503.6 794.0,502.3 794.0,505.1 791.2,506.4" fill="#ecd3a8" /><ellipse cx="788.0" cy="521.3" rx="3.5" ry="1.2" fill="#8a93a8" opacity="0.5"/><ellipse cx="815.0" cy="515.5" rx="8.0" ry="2.6" fill="#3aa7b8" opacity="0.0"/><polygon points="806.5,511.5 815.0,507.2 820.5,510.5 812.0,514.8" fill="#f2c230" /><polygon points="806.5,511.5 812.0,514.8 812.0,516.0 806.5,512.7" fill="#2d8a98" /><polygon points="812.0,514.8 820.5,510.5 820.5,511.7 812.0,516.0" fill="#36a0ae" /><polyline points="819.5,510.0 814.0,497.0 817.5,495.5 822.5,508.5" fill="none" stroke="#3aa7b8" stroke-width="1.0" /><polygon points="809.5,512.0 806.7,510.5 806.7,507.3 809.5,508.8" fill="#e4c694" /><polygon points="809.5,512.0 812.7,510.3 812.7,507.1 809.5,508.8" fill="#ecd3a8" /><polygon points="809.5,508.8 806.7,507.3 809.9,505.6 812.7,507.1" fill="#f3dfbd" /><polygon points="810.0,508.6 807.6,507.3 807.6,504.7 810.0,506.0" fill="#e4c694" /><polygon points="810.0,508.6 812.8,507.1 812.8,504.5 810.0,506.0" fill="#ecd3a8" /><polygon points="810.0,506.0 807.6,504.7 810.4,503.2 812.8,504.5" fill="#f3dfbd" /><rect x="819.3" y="499.0" width="1.6" height="10.9" fill="#f08a1c" rx="0.0"/><rect x="821.1" y="499.0" width="1.6" height="10.9" fill="#f08a1c" rx="0.0"/><rect x="819.1" y="509.5" width="1.9" height="1.0" fill="#444" rx="0.0"/><rect x="821.1" y="509.5" width="1.9" height="1.0" fill="#444" rx="0.0"/><rect x="818.0" y="492.4" width="1.2" height="6.7" fill="#3aa7b8" rx="0.6"/><rect x="822.8" y="492.4" width="1.2" height="6.7" fill="#3aa7b8" rx="0.6"/><rect x="818.9" y="492.0" width="4.2" height="7.7" fill="#3aa7b8" rx="1.0"/><circle cx="821.0" cy="490.5" r="1.6" fill="#e8b88a" /><path d="M819.3 490.2 a1.7 1.9 0 0 1 3.5 0 z" fill="#5a3420"/><polygon points="818.5,494.5 820.0,494.5 817.8,499.3 816.5,498.8" fill="#3aa7b8" /><defs><linearGradient id="gpk" x1="0" y1="0" x2="0" y2="1"><stop offset="0" stop-color="#f4a6b6"/><stop offset="1" stop-color="#fbe3e8"/></linearGradient></defs><ellipse cx="799.3" cy="580.6" rx="2.9" ry="3.4" fill="#1c1c1c" /><ellipse cx="799.6" cy="580.6" rx="1.3" ry="1.5" fill="#a9a9a9" /><polygon points="783.0,586.5 789.5,583.0 789.5,587.0 783.0,590.5" fill="#222" /><polygon points="769.4,569.5 780.8,576.1 780.8,588.6 769.4,582.0" fill="#d2d2d2" /><polygon points="780.8,576.1 803.7,562.4 803.7,576.1 780.8,588.6" fill="url(#gw2)" /><polygon points="792.3,555.9 769.4,569.5 780.8,576.1 803.7,562.4" fill="url(#gw1)" /><polygon points="782.5,577.3 786.3,575.0 786.3,580.3 782.5,582.6" fill="url(#gpk)" /><polygon points="798.3,567.7 802.3,565.3 802.3,570.6 798.3,573.0" fill="url(#gpk)" /><polygon points="757.9,580.8 771.2,588.5 771.2,598.3 757.9,590.6" fill="#f1f1f1" /><polygon points="771.2,588.5 780.5,583.0 780.5,592.5 771.2,598.3" fill="#e4e4e4" /><polygon points="766.0,573.6 757.9,580.8 771.2,588.5 780.5,581.5 777.0,577.5" fill="url(#gw1)" /><polygon points="758.7,581.6 770.5,588.4 770.5,592.4 758.7,585.6" fill="url(#gpk)" /><polygon points="772.3,588.8 775.3,587.0 775.3,591.5 772.3,593.3" fill="url(#gpk)" /><polygon points="776.3,586.4 779.3,584.6 779.3,589.1 776.3,590.9" fill="url(#gpk)" /><polygon points="758.0,586.6 770.8,594.0 770.8,595.2 758.0,587.8" fill="#252525" /><polygon points="762.0,589.6 767.0,592.5 767.0,595.0 762.0,592.1" fill="#3a3a3a" /><polygon points="758.0,589.4 770.8,596.8 770.8,599.0 758.0,591.6" fill="#333" /><circle cx="759.2" cy="590.2" r="0.7" fill="#39b5c4" /><circle cx="769.5" cy="596.2" r="0.7" fill="#39b5c4" /><ellipse cx="774.8" cy="594.3" rx="2.8" ry="3.3" fill="#1c1c1c" /><ellipse cx="775.1" cy="594.3" rx="1.3" ry="1.5" fill="#a9a9a9" /><polygon points="555.2,480.8 641.6,530.8 720.2,483.0 633.8,433.0" fill="#7ec242" /><polygon points="555.2,480.8 641.6,530.8 641.6,532.6 555.2,482.6" fill="#5da02c" /><polygon points="641.6,530.8 720.2,483.0 720.2,484.8 641.6,532.6" fill="#6bb034" /><polygon points="566.0,481.4 640.3,524.4 709.4,482.4 635.1,439.4" fill="#4a4a4c" /><polygon points="641.6,530.8 720.2,483.0 728.7,488.3 650.5,536.3" fill="#48484a" /><polygon points="650.5,536.3 728.7,488.3 728.7,489.8 650.5,537.8" fill="#2e2e30" /><polygon points="641.6,530.8 650.5,536.3 650.5,537.8 641.6,532.6" fill="#333" /><polyline points="645.8,527.3 652.5,523.2 657.0,526.0 719.0,488.0" fill="none" stroke="#e8e8e8" stroke-width="1.0" /><polyline points="641.0,527.8 649.5,522.5 646.0,520.3" fill="none" stroke="#e8e8e8" stroke-width="0.8" /><polygon points="646.5,520.5 659.0,513.0 663.5,515.7 651.0,523.2" fill="#4a4a4c" /><polygon points="659.5,513.0 716.0,479.0 720.2,483.0 663.5,516.6" fill="#7ec242" /><circle cx="563.0" cy="482.0" r="1.3" fill="#3f8f24" /><circle cx="571.2" cy="486.7" r="1.3" fill="#3f8f24" /><circle cx="579.4" cy="491.4" r="1.3" fill="#3f8f24" /><circle cx="587.7" cy="496.2" r="1.3" fill="#3f8f24" /><circle cx="595.9" cy="500.9" r="1.3" fill="#3f8f24" /><circle cx="604.1" cy="505.6" r="1.3" fill="#3f8f24" /><circle cx="612.3" cy="510.3" r="1.3" fill="#3f8f24" /><circle cx="620.6" cy="515.1" r="1.3" fill="#3f8f24" /><circle cx="628.8" cy="519.8" r="1.3" fill="#3f8f24" /><circle cx="637.0" cy="524.5" r="1.3" fill="#3f8f24" /><circle cx="665.0" cy="513.5" r="1.3" fill="#3f8f24" /><circle cx="673.3" cy="508.5" r="1.3" fill="#3f8f24" /><circle cx="681.7" cy="503.5" r="1.3" fill="#3f8f24" /><circle cx="690.0" cy="498.5" r="1.3" fill="#3f8f24" /><circle cx="698.3" cy="493.5" r="1.3" fill="#3f8f24" /><circle cx="706.7" cy="488.5" r="1.3" fill="#3f8f24" /><circle cx="715.0" cy="483.5" r="1.3" fill="#3f8f24" /><circle cx="643.5" cy="523.0" r="1.3" fill="#3f8f24" /><circle cx="648.0" cy="520.3" r="1.3" fill="#3f8f24" /><line x1="672.0" y1="490.0" x2="676.5" y2="492.7" stroke="#d8d8d8" stroke-width="0.5" /><line x1="675.3" y1="488.0" x2="679.8" y2="490.7" stroke="#d8d8d8" stroke-width="0.5" /><line x1="678.7" y1="486.0" x2="683.2" y2="488.7" stroke="#d8d8d8" stroke-width="0.5" /><line x1="682.0" y1="484.0" x2="686.5" y2="486.7" stroke="#d8d8d8" stroke-width="0.5" /><polygon points="680.0,488.0 684.0,485.7 686.5,487.2 682.5,489.5" fill="#f2c81e" /><polygon points="686.5,484.0 690.0,482.0 692.5,483.5 689.0,485.5" fill="#3a6ac8" /><polygon points="689.5,482.0 693.0,480.0 695.5,481.5 692.0,483.5" fill="#d8323a" /><polygon points="667.5,500.5 672.0,498.0 675.0,499.8 670.5,502.3" fill="#f29a1e" /><polygon points="596.0,467.0 650.1,497.5 684.1,478.0 684.1,476.6 650.1,495.7 596.0,465.0" fill="#d8dadc" /><polygon points="596.0,446.9 650.1,476.6 650.1,495.7 596.0,467.0" fill="#c9ced4" /><polygon points="596.0,446.9 650.1,476.6 650.1,488.5 596.0,458.6" fill="#f4831c" /><polygon points="602.5,469.9 607.4,472.5 607.4,466.5 602.5,463.9" fill="#8f969e" /><polygon points="612.2,475.1 617.1,477.7 617.1,471.7 612.2,469.1" fill="#8f969e" /><polygon points="622.0,480.3 626.8,482.9 626.8,476.9 622.0,474.3" fill="#8f969e" /><polygon points="626.0,475.5 642.5,484.4 642.5,491.7 626.0,482.9" fill="#dfe3e7" /><polygon points="642.5,472.4 650.1,476.6 650.1,495.7 642.5,491.7" fill="#f4831c" /><polygon points="650.1,476.6 684.1,458.5 684.1,476.6 650.1,495.7" fill="#f7941d" /><polygon points="650.1,476.6 652.0,475.6 652.0,494.6 650.1,495.7" fill="#e67a12" /><polygon points="659.5,481.0 684.1,467.2 684.1,476.6 659.5,490.4" fill="#c4c9cf" /><polygon points="668.5,472.5 684.1,463.8 684.1,472.5 668.5,481.2" fill="#dde1e5" /><line x1="668.5" y1="474.5" x2="684.1" y2="465.8" stroke="#aeb4ba" stroke-width="0.4" /><line x1="668.5" y1="476.2" x2="684.1" y2="467.5" stroke="#aeb4ba" stroke-width="0.4" /><line x1="668.5" y1="477.9" x2="684.1" y2="469.2" stroke="#aeb4ba" stroke-width="0.4" /><line x1="668.5" y1="479.6" x2="684.1" y2="470.9" stroke="#aeb4ba" stroke-width="0.4" /><circle cx="654.5" cy="488.3" r="0.5" fill="#fff" /><circle cx="657.2" cy="486.8" r="0.5" fill="#fff" /><polygon points="596.0,446.9 630.0,427.7 684.1,458.5 650.1,476.6" fill="#cdbda3" /><polyline points="596.0,446.9 630.0,427.7 684.1,458.5" fill="none" stroke="#eef1f3" stroke-width="1.0" /><polyline points="596.0,446.9 650.1,476.6 684.1,458.5" fill="none" stroke="#f2e9da" stroke-width="0.8" /><polygon points="611.5,446.5 633.0,434.2 634.6,435.1 613.1,447.4" fill="#8fb1c6" stroke="#e9eef1" stroke-width="0.5"/><polygon points="618.2,450.3 639.7,438.0 641.3,438.9 619.8,451.2" fill="#8fb1c6" stroke="#e9eef1" stroke-width="0.5"/><polygon points="624.9,454.1 646.4,441.8 648.0,442.7 626.5,455.0" fill="#8fb1c6" stroke="#e9eef1" stroke-width="0.5"/><polygon points="631.6,457.9 653.1,445.6 654.7,446.5 633.2,458.8" fill="#8fb1c6" stroke="#e9eef1" stroke-width="0.5"/><polygon points="646.0,464.5 654.0,460.0 660.5,463.7 652.5,468.2" fill="#9aa3ae" stroke="#e4e8ec" stroke-width="0.6"/><polygon points="658.5,456.5 666.5,452.0 673.0,455.7 665.0,460.2" fill="#9aa3ae" stroke="#e4e8ec" stroke-width="0.6"/><text transform="matrix(0.866 0.478 0 1 598.6 455.4)" font-size="5" font-weight="bold" style="fill:#fff" textLength="26" lengthAdjust="spacingAndGlyphs">WAREHOUSE</text><polygon points="657.5,492.5 658.4,489.3 659.3,492.5" fill="#4a9a2a" /><polygon points="660.0,491.0 660.9,487.8 661.8,491.0" fill="#4a9a2a" /><polygon points="662.5,489.5 663.4,486.3 664.3,489.5" fill="#4a9a2a" /><polygon points="665.5,488.0 666.4,484.8 667.3,488.0" fill="#4a9a2a" /><polygon points="591.2,475.7 591.1,475.7 591.1,471.5 591.2,471.5" fill="#d96c10" /><polygon points="591.2,475.7 602.7,469.2 602.7,465.1 591.2,471.5" fill="#f08220" /><polygon points="591.2,471.5 591.1,471.5 602.6,465.1 602.7,465.1" fill="#f7983c" /><polygon points="591.2,471.5 588.2,469.8 599.7,463.4 602.7,465.1" fill="#f7983c" /><polygon points="588.2,473.9 591.2,475.7 591.2,471.5 588.2,469.8" fill="#d96c10" /><polygon points="587.5,477.5 584.5,475.8 584.5,472.3 587.5,474.1" fill="#dcdcdc" /><polygon points="587.5,477.5 591.0,475.5 591.0,472.1 587.5,474.1" fill="#f4f4f4" /><polygon points="587.5,474.1 584.5,472.3 588.0,470.4 591.0,472.1" fill="#ffffff" /><circle cx="588.9" cy="477.3" r="1.0" fill="#222" /><circle cx="598.4" cy="472.0" r="1.0" fill="#222" /><polygon points="606.2,483.7 606.1,483.7 606.1,479.5 606.2,479.5" fill="#d96c10" /><polygon points="606.2,483.7 617.7,477.2 617.7,473.1 606.2,479.5" fill="#f08220" /><polygon points="606.2,479.5 606.1,479.5 617.6,473.1 617.7,473.1" fill="#f7983c" /><polygon points="606.2,479.5 603.2,477.8 614.7,471.4 617.7,473.1" fill="#f7983c" /><polygon points="603.2,481.9 606.2,483.7 606.2,479.5 603.2,477.8" fill="#d96c10" /><polygon points="602.5,485.5 599.5,483.8 599.5,480.3 602.5,482.1" fill="#dcdcdc" /><polygon points="602.5,485.5 606.0,483.5 606.0,480.1 602.5,482.1" fill="#f4f4f4" /><polygon points="602.5,482.1 599.5,480.3 603.0,478.4 606.0,480.1" fill="#ffffff" /><circle cx="603.9" cy="485.3" r="1.0" fill="#222" /><circle cx="613.4" cy="480.0" r="1.0" fill="#222" /><polygon points="590.5,485.0 593.0,483.6 595.1,484.8 592.6,486.2" fill="#f2c81e" /><polygon points="591.7,484.7 593.1,483.9 593.1,482.0 591.7,482.8" fill="#3a3a3a" /><circle cx="591.3" cy="485.8" r="0.7" fill="#222" /><polygon points="608.5,492.5 611.0,491.1 613.1,492.3 610.6,493.7" fill="#f2c81e" /><polygon points="609.7,492.2 611.1,491.4 611.1,489.5 609.7,490.3" fill="#3a3a3a" /><circle cx="609.3" cy="493.3" r="0.7" fill="#222" /><polygon points="626.0,487.0 628.5,485.6 630.6,486.8 628.1,488.2" fill="#f2c81e" /><polygon points="627.2,486.7 628.6,485.9 628.6,484.0 627.2,484.8" fill="#3a3a3a" /><circle cx="626.8" cy="487.8" r="0.7" fill="#222" /><ellipse cx="593.5" cy="484.2" rx="1.6" ry="1.0" fill="#e8c89a" /><polygon points="626.0,504.0 618.5,499.8 618.5,496.6 626.0,500.8" fill="#d96c10" /><polygon points="626.0,504.0 629.4,502.1 629.4,498.9 626.0,500.8" fill="#f08220" /><polygon points="626.0,500.8 618.5,496.6 621.9,494.7 629.4,498.9" fill="#f7983c" /><polygon points="626.0,504.0 629.4,502.1 629.4,500.0 626.0,501.9" fill="#fff" /><polygon points="667.5,500.5 672.0,498.0 675.0,499.8 670.5,502.3" fill="#f29a1e" /><polygon points="668.8,499.3 671.5,497.8 673.2,498.8 670.5,500.3" fill="#ffc05a" /><polygon points="640.5,521.2 632.0,516.5 632.0,512.7 640.5,517.4" fill="#c9ced4" /><polygon points="640.5,521.2 648.0,517.0 648.0,513.2 640.5,517.4" fill="#e3e6ea" /><polygon points="640.5,517.4 632.0,512.7 639.5,508.5 648.0,513.2" fill="#9ea6b0" /><polygon points="640.5,521.2 632.0,516.5 632.0,515.1 640.5,519.8" fill="#f08220" /><polygon points="640.5,521.2 648.0,517.0 648.0,515.6 640.5,519.8" fill="#f7941d" /><polygon points="671.0,517.5 668.0,515.8 668.0,512.5 671.0,514.2" fill="#d96c10" /><polygon points="671.0,517.5 676.8,514.1 676.8,510.8 671.0,514.2" fill="#f08220" /><polygon points="671.0,514.2 668.0,512.5 673.8,509.1 676.8,510.8" fill="#f7983c" /><polygon points="668.5,518.8 666.2,517.5 666.2,514.9 668.5,516.2" fill="#dcdcdc" /><polygon points="668.5,518.8 670.8,517.5 670.8,514.9 668.5,516.2" fill="#f4f4f4" /><polygon points="668.5,516.2 666.2,514.9 668.5,513.6 670.8,514.9" fill="#fff" /><circle cx="670.3" cy="519.2" r="0.8" fill="#222" /><line x1="648.5" y1="520.5" x2="655.0" y2="519.0" stroke="#d8524a" stroke-width="0.6" /><polygon points="192.0,537.7 253.6,572.8 253.6,578.7 192.0,543.5" fill="#37334a" /><polygon points="253.6,572.8 313.8,538.5 313.8,544.4 253.6,578.7" fill="#454158" /><polygon points="192.0,537.7 253.6,503.5 313.8,538.5 253.6,572.8" fill="#5a5672" /><polygon points="289.0,526.0 305.0,534.0 296.0,540.0 285.0,546.0 275.0,540.0" fill="#4a4660" /><line x1="195.5" y1="538.0" x2="254.0" y2="570.5" stroke="#d4d1e0" stroke-width="0.5" /><line x1="199.5" y1="536.0" x2="257.5" y2="568.3" stroke="#d4d1e0" stroke-width="0.5" stroke-dasharray="2 1.6"/><line x1="203.5" y1="534.0" x2="261.0" y2="566.0" stroke="#d4d1e0" stroke-width="0.5" stroke-dasharray="2 1.6"/><polygon points="203.0,533.2 225.0,521.2 255.4,538.0 234.2,550.8" fill="none" stroke="#d8d5e4" stroke-width="0.5"/><polyline points="228.0,519.5 262.5,538.5 244.0,549.5" fill="none" stroke="#d8d5e4" stroke-width="0.5" stroke-dasharray="1.4 1"/><polyline points="231.5,517.5 267.0,536.8" fill="none" stroke="#d8d5e4" stroke-width="0.5" stroke-dasharray="1.4 1"/><line x1="205.0" y1="533.6" x2="214.2" y2="528.4" stroke="#e0b020" stroke-width="1.2" /><line x1="208.4" y1="535.6" x2="217.6" y2="530.4" stroke="#e0b020" stroke-width="1.2" /><line x1="211.9" y1="537.6" x2="221.1" y2="532.4" stroke="#e0b020" stroke-width="1.2" /><line x1="215.3" y1="539.6" x2="224.5" y2="534.4" stroke="#e0b020" stroke-width="1.2" /><line x1="218.8" y1="541.6" x2="228.0" y2="536.4" stroke="#e0b020" stroke-width="1.2" /><line x1="222.2" y1="543.6" x2="231.4" y2="538.4" stroke="#e0b020" stroke-width="1.2" /><line x1="225.7" y1="545.6" x2="234.9" y2="540.4" stroke="#e0b020" stroke-width="1.2" /><line x1="229.2" y1="547.6" x2="238.3" y2="542.4" stroke="#e0b020" stroke-width="1.2" /><line x1="232.6" y1="549.6" x2="241.8" y2="544.4" stroke="#e0b020" stroke-width="1.2" /><line x1="216.2" y1="526.8" x2="225.4" y2="521.6" stroke="#e0b020" stroke-width="1.2" /><line x1="219.7" y1="528.8" x2="228.8" y2="523.6" stroke="#e0b020" stroke-width="1.2" /><line x1="223.1" y1="530.8" x2="232.3" y2="525.6" stroke="#e0b020" stroke-width="1.2" /><line x1="226.6" y1="532.8" x2="235.8" y2="527.6" stroke="#e0b020" stroke-width="1.2" /><line x1="230.0" y1="534.8" x2="239.2" y2="529.6" stroke="#e0b020" stroke-width="1.2" /><line x1="233.4" y1="536.8" x2="242.6" y2="531.6" stroke="#e0b020" stroke-width="1.2" /><line x1="236.9" y1="538.8" x2="246.1" y2="533.6" stroke="#e0b020" stroke-width="1.2" /><line x1="240.3" y1="540.8" x2="249.5" y2="535.6" stroke="#e0b020" stroke-width="1.2" /><line x1="243.8" y1="542.8" x2="253.0" y2="537.6" stroke="#e0b020" stroke-width="1.2" /><polygon points="233.5,501.7 271.1,524.3 271.1,537.0 233.5,514.5" fill="#dcdce4" /><polygon points="271.1,524.3 287.9,514.3 287.9,527.5 271.1,537.0" fill="#f2f2f4" /><polygon points="233.5,501.7 250.2,491.7 287.9,514.3 271.1,524.3" fill="#fbfbfc" /><polygon points="251.0,513.8 270.0,525.2 270.0,528.6 251.0,517.2" fill="#5a5668" /><polygon points="251.0,519.3 270.0,530.7 270.0,534.1 251.0,522.7" fill="#5a5668" /><polygon points="236.5,511.5 246.0,517.0 246.0,519.3 236.5,513.8" fill="#58d23c" /><polygon points="238.0,513.8 245.0,517.9 245.0,520.3 238.0,516.2" fill="#8a8a96" /><text transform="matrix(0.866 0.5 0 1 234.6 507.8)" font-size="5.6" font-weight="bold" style="fill:#4cc83a" textLength="17" lengthAdjust="spacingAndGlyphs">FACTORY</text><polygon points="273.6,525.8 276.1,524.3 276.1,532.3 273.6,533.8" fill="#1f7a2a" /><polygon points="278.7,522.8 281.2,521.3 281.2,529.3 278.7,530.8" fill="#1f7a2a" /><polygon points="283.7,519.8 286.2,518.3 286.2,526.3 283.7,527.8" fill="#1f7a2a" /><polygon points="243.0,498.0 249.0,494.5 255.0,498.0 249.0,501.5" fill="#8aa49c" stroke="#d0d6d4" stroke-width="0.5"/><polygon points="252.5,503.5 258.5,500.0 264.5,503.5 258.5,507.0" fill="#8aa49c" stroke="#d0d6d4" stroke-width="0.5"/><polygon points="280.0,551.9 267.0,544.7 267.0,531.2 280.0,538.4" fill="#dcdce4" /><polygon points="280.0,551.9 288.7,546.9 288.7,533.4 280.0,538.4" fill="#f0f0f3" /><polygon points="280.0,538.4 267.0,531.2 275.7,526.2 288.7,533.4" fill="#fbfbfc" /><polygon points="268.0,533.5 279.0,539.6 279.0,542.4 268.0,536.3" fill="#5a5668" /><polygon points="268.0,538.5 279.0,544.6 279.0,547.4 268.0,541.3" fill="#5a5668" /><polygon points="272.0,530.5 276.5,528.0 282.0,531.0 277.5,533.5" fill="#8aa49c" stroke="#d0d6d4" stroke-width="0.5"/><polygon points="281.5,540.6 283.5,539.5 283.5,541.3 281.5,542.4" fill="#3ccf3a" /><polygon points="284.5,538.9 286.5,537.8 286.5,539.6 284.5,540.7" fill="#e03a3a" /><polygon points="281.5,545.0 287.5,541.6 287.5,548.5 281.5,551.5" fill="#b8b8c2" /><polygon points="251.5,558.8 244.5,554.9 244.5,549.9 251.5,553.8" fill="#d4d4dc" /><polygon points="251.5,558.8 258.8,554.7 258.8,549.7 251.5,553.8" fill="#ececf0" /><polygon points="251.5,553.8 244.5,549.9 251.8,545.8 258.8,549.7" fill="#ffffff" /><line x1="239.0" y1="551.0" x2="245.5" y2="554.8" stroke="#e06a6a" stroke-width="0.6" /><polygon points="385.7,588.8 413.2,572.0 413.2,541.0 385.7,557.8" fill="#dfeaf2" /><polygon points="393.2,593.0 420.7,576.2 413.2,572.0 385.7,588.8" fill="#cfe0ea" /><polygon points="395.4,590.4 390.9,587.8 390.9,583.0 395.4,585.5" fill="#d8b67e" /><polygon points="395.4,590.4 402.0,586.3 402.0,581.5 395.4,585.5" fill="#ecd3a4" /><polygon points="395.4,585.5 390.9,583.0 397.5,579.0 402.0,581.5" fill="#f3e0bc" /><polygon points="404.2,585.0 399.7,582.5 399.7,577.7 404.2,580.2" fill="#d8b67e" /><polygon points="404.2,585.0 410.8,580.9 410.8,576.1 404.2,580.2" fill="#ecd3a4" /><polygon points="404.2,580.2 399.7,577.7 406.3,573.6 410.8,576.1" fill="#f3e0bc" /><polygon points="412.4,579.9 407.9,577.4 407.9,572.6 412.4,575.1" fill="#d8b67e" /><polygon points="412.4,579.9 419.0,575.9 419.0,571.1 412.4,575.1" fill="#ecd3a4" /><polygon points="412.4,575.1 407.9,572.6 414.5,568.6 419.0,571.1" fill="#f3e0bc" /><line x1="393.2" y1="593.0" x2="420.7" y2="576.2" stroke="#3aa4d6" stroke-width="0.9" /><line x1="393.2" y1="593.0" x2="385.7" y2="588.8" stroke="#3aa4d6" stroke-width="0.7" /><polygon points="393.2,585.2 420.7,568.5 413.2,564.2 385.7,581.0" fill="#cfe0ea" /><polygon points="395.4,582.6 390.9,580.1 390.9,575.3 395.4,577.8" fill="#d8b67e" /><polygon points="395.4,582.6 402.0,578.6 402.0,573.8 395.4,577.8" fill="#ecd3a4" /><polygon points="395.4,577.8 390.9,575.3 397.5,571.2 402.0,573.8" fill="#f3e0bc" /><polygon points="404.2,577.2 399.7,574.7 399.7,569.9 404.2,572.4" fill="#d8b67e" /><polygon points="404.2,577.2 410.8,573.2 410.8,568.4 404.2,572.4" fill="#ecd3a4" /><polygon points="404.2,572.4 399.7,569.9 406.3,565.9 410.8,568.4" fill="#f3e0bc" /><polygon points="412.4,572.2 407.9,569.7 407.9,564.9 412.4,567.4" fill="#d8b67e" /><polygon points="412.4,572.2 419.0,568.2 419.0,563.4 412.4,567.4" fill="#ecd3a4" /><polygon points="412.4,567.4 407.9,564.9 414.5,560.8 419.0,563.4" fill="#f3e0bc" /><line x1="393.2" y1="585.2" x2="420.7" y2="568.5" stroke="#3aa4d6" stroke-width="0.9" /><line x1="393.2" y1="585.2" x2="385.7" y2="581.0" stroke="#3aa4d6" stroke-width="0.7" /><polygon points="393.2,577.5 420.7,560.7 413.2,556.5 385.7,573.3" fill="#cfe0ea" /><polygon points="395.4,574.9 390.9,572.3 390.9,567.5 395.4,570.0" fill="#d8b67e" /><polygon points="395.4,574.9 402.0,570.8 402.0,566.0 395.4,570.0" fill="#ecd3a4" /><polygon points="395.4,570.0 390.9,567.5 397.5,563.5 402.0,566.0" fill="#f3e0bc" /><polygon points="404.2,569.5 399.7,567.0 399.7,562.2 404.2,564.7" fill="#d8b67e" /><polygon points="404.2,569.5 410.8,565.4 410.8,560.6 404.2,564.7" fill="#ecd3a4" /><polygon points="404.2,564.7 399.7,562.2 406.3,558.1 410.8,560.6" fill="#f3e0bc" /><polygon points="412.4,564.4 407.9,561.9 407.9,557.1 412.4,559.6" fill="#d8b67e" /><polygon points="412.4,564.4 419.0,560.4 419.0,555.6 412.4,559.6" fill="#ecd3a4" /><polygon points="412.4,559.6 407.9,557.1 414.5,553.1 419.0,555.6" fill="#f3e0bc" /><line x1="393.2" y1="577.5" x2="420.7" y2="560.7" stroke="#3aa4d6" stroke-width="0.9" /><line x1="393.2" y1="577.5" x2="385.7" y2="573.3" stroke="#3aa4d6" stroke-width="0.7" /><polygon points="393.2,569.8 420.7,553.0 413.2,548.8 385.7,565.5" fill="#cfe0ea" /><polygon points="395.4,567.1 390.9,564.6 390.9,559.8 395.4,562.3" fill="#d8b67e" /><polygon points="395.4,567.1 402.0,563.1 402.0,558.3 395.4,562.3" fill="#ecd3a4" /><polygon points="395.4,562.3 390.9,559.8 397.5,555.7 402.0,558.3" fill="#f3e0bc" /><polygon points="404.2,561.7 399.7,559.2 399.7,554.4 404.2,556.9" fill="#d8b67e" /><polygon points="404.2,561.7 410.8,557.7 410.8,552.9 404.2,556.9" fill="#ecd3a4" /><polygon points="404.2,556.9 399.7,554.4 406.3,550.4 410.8,552.9" fill="#f3e0bc" /><polygon points="412.4,556.7 407.9,554.2 407.9,549.4 412.4,551.9" fill="#d8b67e" /><polygon points="412.4,556.7 419.0,552.7 419.0,547.9 412.4,551.9" fill="#ecd3a4" /><polygon points="412.4,551.9 407.9,549.4 414.5,545.3 419.0,547.9" fill="#f3e0bc" /><line x1="393.2" y1="569.8" x2="420.7" y2="553.0" stroke="#3aa4d6" stroke-width="0.9" /><line x1="393.2" y1="569.8" x2="385.7" y2="565.5" stroke="#3aa4d6" stroke-width="0.7" /><polygon points="393.2,562.0 420.7,545.2 413.2,541.0 385.7,557.8" fill="#d6e6ef" /><line x1="393.2" y1="562.0" x2="420.7" y2="545.2" stroke="#3aa4d6" stroke-width="0.9" /><line x1="393.2" y1="562.0" x2="385.7" y2="557.8" stroke="#3aa4d6" stroke-width="0.7" /><line x1="385.7" y1="588.8" x2="385.7" y2="557.8" stroke="#5a6a8c" stroke-width="0.9" /><line x1="413.2" y1="572.0" x2="413.2" y2="541.0" stroke="#5a6a8c" stroke-width="0.9" /><line x1="393.2" y1="593.0" x2="393.2" y2="562.0" stroke="#5a6a8c" stroke-width="1.3" /><line x1="420.7" y1="576.2" x2="420.7" y2="545.2" stroke="#5a6a8c" stroke-width="1.1" /><polygon points="394.0,557.8 388.0,554.9 388.0,551.9 394.0,554.8" fill="#d8b67e" /><polygon points="394.0,557.8 400.4,553.9 400.4,550.9 394.0,554.8" fill="#ecd3a4" /><polygon points="394.0,554.8 388.0,551.9 394.4,548.0 400.4,550.9" fill="#f3e0bc" /><polygon points="405.8,550.9 401.1,548.6 401.1,542.1 405.8,544.4" fill="#d8b67e" /><polygon points="405.8,550.9 410.8,547.9 410.8,541.4 405.8,544.4" fill="#ecd3a4" /><polygon points="405.8,544.4 401.1,542.1 406.1,539.1 410.8,541.4" fill="#f3e0bc" /><polygon points="357.4,605.1 384.8,588.6 384.8,556.6 357.4,573.1" fill="#dfeaf2" /><polygon points="365.8,609.3 393.2,592.8 384.8,588.6 357.4,605.1" fill="#cfe0ea" /><polygon points="367.8,606.7 362.8,604.2 362.8,599.2 367.8,601.7" fill="#d8b67e" /><polygon points="367.8,606.7 374.4,602.7 374.4,597.8 367.8,601.7" fill="#ecd3a4" /><polygon points="367.8,601.7 362.8,599.2 369.4,595.2 374.4,597.8" fill="#f3e0bc" /><polygon points="376.6,601.4 371.6,598.9 371.6,593.9 376.6,596.4" fill="#d8b67e" /><polygon points="376.6,601.4 383.2,597.4 383.2,592.5 376.6,596.4" fill="#ecd3a4" /><polygon points="376.6,596.4 371.6,593.9 378.1,590.0 383.2,592.5" fill="#f3e0bc" /><polygon points="384.8,596.5 379.8,593.9 379.8,589.0 384.8,591.5" fill="#d8b67e" /><polygon points="384.8,596.5 391.4,592.5 391.4,587.5 384.8,591.5" fill="#ecd3a4" /><polygon points="384.8,591.5 379.8,589.0 386.4,585.0 391.4,587.5" fill="#f3e0bc" /><line x1="365.8" y1="609.3" x2="393.2" y2="592.8" stroke="#3aa4d6" stroke-width="0.9" /><line x1="365.8" y1="609.3" x2="357.4" y2="605.1" stroke="#3aa4d6" stroke-width="0.7" /><polygon points="365.8,601.3 393.2,584.8 384.8,580.6 357.4,597.1" fill="#cfe0ea" /><polygon points="367.8,598.7 362.8,596.2 362.8,591.2 367.8,593.7" fill="#d8b67e" /><polygon points="367.8,598.7 374.4,594.7 374.4,589.8 367.8,593.7" fill="#ecd3a4" /><polygon points="367.8,593.7 362.8,591.2 369.4,587.2 374.4,589.8" fill="#f3e0bc" /><polygon points="376.6,593.4 371.6,590.9 371.6,585.9 376.6,588.4" fill="#d8b67e" /><polygon points="376.6,593.4 383.2,589.4 383.2,584.5 376.6,588.4" fill="#ecd3a4" /><polygon points="376.6,588.4 371.6,585.9 378.1,582.0 383.2,584.5" fill="#f3e0bc" /><polygon points="384.8,588.5 379.8,585.9 379.8,581.0 384.8,583.5" fill="#d8b67e" /><polygon points="384.8,588.5 391.4,584.5 391.4,579.5 384.8,583.5" fill="#ecd3a4" /><polygon points="384.8,583.5 379.8,581.0 386.4,577.0 391.4,579.5" fill="#f3e0bc" /><line x1="365.8" y1="601.3" x2="393.2" y2="584.8" stroke="#3aa4d6" stroke-width="0.9" /><line x1="365.8" y1="601.3" x2="357.4" y2="597.1" stroke="#3aa4d6" stroke-width="0.7" /><polygon points="365.8,593.3 393.2,576.8 384.8,572.6 357.4,589.1" fill="#cfe0ea" /><polygon points="367.8,590.7 362.8,588.2 362.8,583.2 367.8,585.7" fill="#d8b67e" /><polygon points="367.8,590.7 374.4,586.7 374.4,581.8 367.8,585.7" fill="#ecd3a4" /><polygon points="367.8,585.7 362.8,583.2 369.4,579.2 374.4,581.8" fill="#f3e0bc" /><polygon points="376.6,585.4 371.6,582.9 371.6,577.9 376.6,580.4" fill="#d8b67e" /><polygon points="376.6,585.4 383.2,581.4 383.2,576.5 376.6,580.4" fill="#ecd3a4" /><polygon points="376.6,580.4 371.6,577.9 378.1,574.0 383.2,576.5" fill="#f3e0bc" /><polygon points="384.8,580.5 379.8,577.9 379.8,573.0 384.8,575.5" fill="#d8b67e" /><polygon points="384.8,580.5 391.4,576.5 391.4,571.5 384.8,575.5" fill="#ecd3a4" /><polygon points="384.8,575.5 379.8,573.0 386.4,569.0 391.4,571.5" fill="#f3e0bc" /><line x1="365.8" y1="593.3" x2="393.2" y2="576.8" stroke="#3aa4d6" stroke-width="0.9" /><line x1="365.8" y1="593.3" x2="357.4" y2="589.1" stroke="#3aa4d6" stroke-width="0.7" /><polygon points="365.8,585.3 393.2,568.8 384.8,564.6 357.4,581.1" fill="#cfe0ea" /><polygon points="367.8,582.7 362.8,580.2 362.8,575.2 367.8,577.7" fill="#d8b67e" /><polygon points="367.8,582.7 374.4,578.7 374.4,573.8 367.8,577.7" fill="#ecd3a4" /><polygon points="367.8,577.7 362.8,575.2 369.4,571.2 374.4,573.8" fill="#f3e0bc" /><polygon points="376.6,577.4 371.6,574.9 371.6,569.9 376.6,572.4" fill="#d8b67e" /><polygon points="376.6,577.4 383.2,573.4 383.2,568.5 376.6,572.4" fill="#ecd3a4" /><polygon points="376.6,572.4 371.6,569.9 378.1,566.0 383.2,568.5" fill="#f3e0bc" /><polygon points="384.8,572.5 379.8,569.9 379.8,565.0 384.8,567.5" fill="#d8b67e" /><polygon points="384.8,572.5 391.4,568.5 391.4,563.5 384.8,567.5" fill="#ecd3a4" /><polygon points="384.8,567.5 379.8,565.0 386.4,561.0 391.4,563.5" fill="#f3e0bc" /><line x1="365.8" y1="585.3" x2="393.2" y2="568.8" stroke="#3aa4d6" stroke-width="0.9" /><line x1="365.8" y1="585.3" x2="357.4" y2="581.1" stroke="#3aa4d6" stroke-width="0.7" /><polygon points="365.8,577.3 393.2,560.8 384.8,556.6 357.4,573.1" fill="#d6e6ef" /><line x1="365.8" y1="577.3" x2="393.2" y2="560.8" stroke="#3aa4d6" stroke-width="0.9" /><line x1="365.8" y1="577.3" x2="357.4" y2="573.1" stroke="#3aa4d6" stroke-width="0.7" /><line x1="357.4" y1="605.1" x2="357.4" y2="573.1" stroke="#5a6a8c" stroke-width="0.9" /><line x1="384.8" y1="588.6" x2="384.8" y2="556.6" stroke="#5a6a8c" stroke-width="0.9" /><line x1="365.8" y1="609.3" x2="365.8" y2="577.3" stroke="#5a6a8c" stroke-width="1.3" /><line x1="393.2" y1="592.8" x2="393.2" y2="560.8" stroke="#5a6a8c" stroke-width="1.1" /><polygon points="366.5,574.4 360.4,571.4 360.4,567.1 366.5,570.1" fill="#d8b67e" /><polygon points="366.5,574.4 372.8,570.6 372.8,566.3 366.5,570.1" fill="#ecd3a4" /><polygon points="366.5,570.1 360.4,567.1 366.7,563.3 372.8,566.3" fill="#f3e0bc" /><polygon points="377.5,566.8 372.8,564.5 372.8,558.0 377.5,560.3" fill="#d8b67e" /><polygon points="377.5,566.8 382.5,563.8 382.5,557.3 377.5,560.3" fill="#ecd3a4" /><polygon points="377.5,560.3 372.8,558.0 377.8,555.0 382.5,557.3" fill="#f3e0bc" /><rect x="406.7" y="578.8" width="1.6" height="11.1" fill="#f08a1c" rx="0.0"/><rect x="408.6" y="578.8" width="1.6" height="11.1" fill="#f08a1c" rx="0.0"/><rect x="406.5" y="589.5" width="2.0" height="1.0" fill="#333" rx="0.0"/><rect x="408.6" y="589.5" width="2.0" height="1.0" fill="#333" rx="0.0"/><rect x="405.4" y="572.0" width="1.2" height="6.9" fill="#3aa4b8" rx="0.6"/><rect x="410.3" y="572.0" width="1.2" height="6.9" fill="#3aa4b8" rx="0.6"/><rect x="406.3" y="571.6" width="4.3" height="7.8" fill="#3aa4b8" rx="1.0"/><circle cx="408.5" cy="570.1" r="1.6" fill="#e5b48c" /><path d="M406.7 569.7 a1.8 2.0 0 0 1 3.5 0 z" fill="#4a2e1c"/><polygon points="409.0,574.5 413.5,577.5 413.0,579.0 408.5,576.3" fill="#3aa4b8" /><polygon points="410.5,578.5 414.5,577.0 416.0,578.3 412.0,579.8" fill="#f2f2f2" /><polygon points="407.7,592.5 426.8,581.5 426.8,601.5 420.0,607.0 411.5,608.2 407.7,604.0" fill="#5a5a7c" /><polygon points="407.7,592.5 411.5,594.5 411.5,608.2 407.7,604.0" fill="#48486a" /><polygon points="408.0,601.0 411.5,604.2 420.0,603.0 426.8,597.0 426.8,601.5 420.0,607.0 411.5,608.2 408.0,604.5" fill="#f2c426" /><polygon points="403.2,590.7 425.3,578.5 432.1,582.3 411.5,593.9" fill="#f6ded2" /><polygon points="403.2,590.7 411.5,593.9 411.5,595.2 403.2,592.0" fill="#e4c4b8" /><polygon points="411.5,593.9 432.1,582.3 432.1,583.6 411.5,595.2" fill="#ecd0c4" /><ellipse cx="376.5" cy="609.5" rx="3.6" ry="1.3" fill="#7a86a8" opacity="0.55"/><rect x="374.4" y="595.3" width="1.9" height="13.2" fill="#f08a1c" rx="0.0"/><rect x="376.7" y="595.3" width="1.9" height="13.2" fill="#f08a1c" rx="0.0"/><rect x="374.2" y="608.1" width="2.3" height="1.2" fill="#333" rx="0.0"/><rect x="376.7" y="608.1" width="2.3" height="1.2" fill="#333" rx="0.0"/><rect x="372.8" y="587.3" width="1.5" height="8.2" fill="#3aa4b8" rx="0.7"/><rect x="378.7" y="587.3" width="1.5" height="8.2" fill="#3aa4b8" rx="0.7"/><rect x="373.9" y="586.7" width="5.1" height="9.3" fill="#3aa4b8" rx="1.2"/><circle cx="376.5" cy="585.0" r="1.9" fill="#e5b48c" /><path d="M374.4 584.6 a2.1 2.3 0 0 1 4.2 0 z" fill="#4a2e1c"/><polygon points="373.5,588.5 370.0,585.5 370.6,584.5 374.5,587.0" fill="#3aa4b8" /><polygon points="376.5,587.0 380.3,589.3 379.6,590.4 376.0,588.5" fill="#f08a1c" /><polygon points="380.3,607.0 397.8,597.0 397.8,616.0 391.0,621.0 384.0,622.0 380.3,618.5" fill="#5a5a7c" /><polygon points="380.3,607.0 384.0,609.0 384.0,622.0 380.3,618.5" fill="#48486a" /><polygon points="380.5,615.0 384.0,618.0 391.0,617.0 397.8,611.5 397.8,616.0 391.0,621.0 384.0,622.0 380.5,618.7" fill="#f2c426" /><polygon points="375.7,605.2 396.3,594.5 405.4,598.3 384.1,609.8" fill="#f6ded2" /><polygon points="375.7,605.2 384.1,609.8 384.1,611.1 375.7,606.5" fill="#e4c4b8" /><polygon points="384.1,609.8 405.4,598.3 405.4,599.6 384.1,611.1" fill="#ecd0c4" /><ellipse cx="399.5" cy="622.5" rx="3.7" ry="1.3" fill="#7a86a8" opacity="0.55"/><rect x="397.4" y="608.0" width="2.0" height="13.5" fill="#6e727a" rx="0.0"/><rect x="399.7" y="608.0" width="2.0" height="13.5" fill="#6e727a" rx="0.0"/><rect x="397.1" y="621.1" width="2.4" height="1.2" fill="#333" rx="0.0"/><rect x="399.7" y="621.1" width="2.4" height="1.2" fill="#333" rx="0.0"/><rect x="395.8" y="599.9" width="1.5" height="8.3" fill="#7c8088" rx="0.7"/><rect x="401.7" y="599.9" width="1.5" height="8.3" fill="#7c8088" rx="0.7"/><rect x="396.9" y="599.3" width="5.2" height="9.5" fill="#7c8088" rx="1.3"/><circle cx="399.5" cy="597.5" r="2.0" fill="#e5b48c" /><path d="M397.4 597.1 a2.1 2.4 0 0 1 4.3 0 z" fill="#2e2a28"/><polygon points="396.5,603.5 393.8,605.5 394.3,606.5 397.0,604.8" fill="#7c8088" /><ellipse cx="428.0" cy="610.5" rx="3.7" ry="1.3" fill="#7a86a8" opacity="0.55"/><rect x="425.9" y="596.0" width="2.0" height="13.5" fill="#345a6a" rx="0.0"/><rect x="428.2" y="596.0" width="2.0" height="13.5" fill="#345a6a" rx="0.0"/><rect x="425.6" y="609.1" width="2.4" height="1.2" fill="#333" rx="0.0"/><rect x="428.2" y="609.1" width="2.4" height="1.2" fill="#333" rx="0.0"/><rect x="424.3" y="587.9" width="1.5" height="8.3" fill="#24423e" rx="0.7"/><rect x="430.2" y="587.9" width="1.5" height="8.3" fill="#24423e" rx="0.7"/><rect x="425.4" y="587.3" width="5.2" height="9.5" fill="#24423e" rx="1.3"/><circle cx="428.0" cy="585.5" r="2.0" fill="#e5b48c" /><path d="M425.9 585.1 a2.1 2.4 0 0 1 4.3 0 z" fill="#5a3420"/><polygon points="425.0,588.5 420.5,592.5 421.0,593.6 425.5,590.0" fill="#24423e" /><circle cx="420.2" cy="593.3" r="0.8" fill="#e5b48c" /><ellipse cx="436.3" cy="617.8" rx="3.9" ry="1.3" fill="#7a86a8" opacity="0.55"/><rect x="434.1" y="602.6" width="2.1" height="14.2" fill="#e5b48c" rx="0.0"/><rect x="436.5" y="602.6" width="2.1" height="14.2" fill="#e5b48c" rx="0.0"/><rect x="433.8" y="616.4" width="2.5" height="1.2" fill="#c04a8a" rx="0.0"/><rect x="436.5" y="616.4" width="2.5" height="1.2" fill="#c04a8a" rx="0.0"/><rect x="432.4" y="594.0" width="1.6" height="8.8" fill="#9b46d8" rx="0.8"/><rect x="438.6" y="594.0" width="1.6" height="8.8" fill="#9b46d8" rx="0.8"/><rect x="433.6" y="593.4" width="5.5" height="10.0" fill="#9b46d8" rx="1.3"/><circle cx="436.3" cy="591.5" r="2.1" fill="#e5b48c" /><path d="M434.1 591.1 a2.3 2.5 0 0 1 4.5 0 z" fill="#3c1e5a"/><polygon points="433.7,602.0 439.0,602.0 439.4,609.5 433.3,609.5" fill="#2a2840" /><polygon points="434.0,590.5 438.6,590.5 439.2,598.0 433.6,598.0" fill="#4a2470" opacity="0.9"/><polygon points="508.0,600.0 551.0,578.0 560.0,583.0 517.0,605.0" fill="#6a7896" opacity="0.55"/><polygon points="556.0,617.0 600.0,594.0 613.0,601.0 569.0,625.0" fill="#6a7896" opacity="0.5"/><polygon points="505.0,624.0 527.0,637.0 549.0,625.0 527.0,612.0" fill="#6a7896" opacity="0.55"/><polygon points="528.4,590.0 534.0,576.0 541.5,573.5 551.6,581.5 551.6,590.5 540.0,597.5 528.4,594.0" fill="#f0901e" /><polygon points="541.0,577.5 551.6,583.5 551.6,586.0 541.0,580.0" fill="#d87a10" /><polygon points="547.5,578.5 551.6,580.8 551.6,584.5 547.5,582.2" fill="#e04a3a" /><polygon points="523.5,581.0 531.0,576.5 537.0,580.0 537.0,591.5 530.0,595.5 523.5,592.0" fill="#33363e" /><polygon points="531.0,580.0 535.5,577.5 538.0,584.0 533.5,586.5" fill="#2a2d34" /><line x1="521.2" y1="567.5" x2="518.5" y2="590.0" stroke="#dcdce4" stroke-width="0.8" /><line x1="542.0" y1="568.5" x2="542.5" y2="590.0" stroke="#2a2d34" stroke-width="1.2" /><line x1="533.0" y1="574.0" x2="531.5" y2="594.0" stroke="#2a2d34" stroke-width="1.1" /><polygon points="520.4,566.8 529.2,561.5 542.8,567.9 533.2,574.0" fill="#343840" /><polygon points="512.2,570.0 514.2,569.0 514.2,596.0 512.2,597.0" fill="#2a2d34" /><polygon points="521.5,575.5 523.5,574.5 523.5,601.5 521.5,602.5" fill="#2a2d34" /><polygon points="512.2,584.0 521.5,589.3 521.5,596.0 512.2,590.7" fill="#3a3e46" /><polygon points="510.5,584.0 512.5,583.0 512.5,597.5 510.5,598.5" fill="#f0b020" /><polygon points="519.8,589.5 521.8,588.5 521.8,603.0 519.8,604.0" fill="#f0b020" /><polygon points="502.8,599.5 511.0,595.0 513.0,596.0 505.0,600.8" fill="#f4b324" /><polygon points="511.5,604.5 520.0,600.0 522.0,601.2 514.0,605.8" fill="#f4b324" /><ellipse cx="527.0" cy="597.2" rx="2.2" ry="2.6" fill="#1c1c1c" /><ellipse cx="527.3" cy="597.2" rx="1.0" ry="1.2" fill="#a9a9a9" /><ellipse cx="544.5" cy="593.2" rx="2.5" ry="3.0" fill="#1c1c1c" /><ellipse cx="544.8" cy="593.2" rx="1.1" ry="1.4" fill="#a9a9a9" /><polygon points="527.0,637.5 504.0,624.9 504.0,621.7 527.0,634.3" fill="#8a6420" /><polygon points="527.0,637.5 548.5,625.7 548.5,622.5 527.0,634.3" fill="#8a6420" /><polygon points="527.0,634.3 504.0,621.7 525.5,609.9 548.5,622.5" fill="#f0bf55" /><polygon points="527.0,637.5 523.3,635.5 523.3,633.2 527.0,635.3" fill="#c98f2c" /><polygon points="517.3,632.2 513.7,630.2 513.7,628.0 517.3,630.0" fill="#c98f2c" /><polygon points="507.7,626.9 504.0,624.9 504.0,622.7 507.7,624.7" fill="#c98f2c" /><polygon points="527.0,637.5 530.4,635.6 530.4,633.4 527.0,635.3" fill="#dba53c" /><polygon points="536.0,632.5 539.5,630.7 539.5,628.4 536.0,630.3" fill="#dba53c" /><polygon points="545.1,627.6 548.5,625.7 548.5,623.5 545.1,625.3" fill="#dba53c" /><polygon points="527.0,635.3 504.0,622.7 504.0,621.7 527.0,634.3" fill="#c98f2c" /><polygon points="527.0,635.3 548.5,623.5 548.5,622.5 527.0,634.3" fill="#dba53c" /><line x1="530.6" y1="632.3" x2="507.6" y2="619.7" stroke="#d8a23a" stroke-width="0.45" /><line x1="534.2" y1="630.4" x2="511.2" y2="617.8" stroke="#d8a23a" stroke-width="0.45" /><line x1="537.8" y1="628.4" x2="514.8" y2="615.8" stroke="#d8a23a" stroke-width="0.45" /><line x1="541.3" y1="626.4" x2="518.3" y2="613.8" stroke="#d8a23a" stroke-width="0.45" /><line x1="544.9" y1="624.5" x2="521.9" y2="611.9" stroke="#d8a23a" stroke-width="0.45" /><polygon points="527.8,633.3 504.8,620.7 504.8,617.5 527.8,630.1" fill="#8a6420" /><polygon points="527.8,633.3 549.2,621.5 549.2,618.3 527.8,630.1" fill="#8a6420" /><polygon points="527.8,630.1 504.8,617.5 526.2,605.7 549.2,618.3" fill="#f0bf55" /><polygon points="527.8,633.3 524.1,631.3 524.1,629.0 527.8,631.1" fill="#c98f2c" /><polygon points="518.1,628.0 514.4,626.0 514.4,623.8 518.1,625.8" fill="#c98f2c" /><polygon points="508.4,622.7 504.8,620.7 504.8,618.5 508.4,620.5" fill="#c98f2c" /><polygon points="527.8,633.3 531.2,631.4 531.2,629.2 527.8,631.1" fill="#dba53c" /><polygon points="536.8,628.3 540.2,626.5 540.2,624.2 536.8,626.1" fill="#dba53c" /><polygon points="545.8,623.4 549.2,621.5 549.2,619.3 545.8,621.1" fill="#dba53c" /><polygon points="527.8,631.1 504.8,618.5 504.8,617.5 527.8,630.1" fill="#c98f2c" /><polygon points="527.8,631.1 549.2,619.3 549.2,618.3 527.8,630.1" fill="#dba53c" /><line x1="531.3" y1="628.1" x2="508.3" y2="615.5" stroke="#d8a23a" stroke-width="0.45" /><line x1="534.9" y1="626.2" x2="511.9" y2="613.6" stroke="#d8a23a" stroke-width="0.45" /><line x1="538.5" y1="624.2" x2="515.5" y2="611.6" stroke="#d8a23a" stroke-width="0.45" /><line x1="542.1" y1="622.2" x2="519.1" y2="609.6" stroke="#d8a23a" stroke-width="0.45" /><line x1="545.7" y1="620.3" x2="522.7" y2="607.7" stroke="#d8a23a" stroke-width="0.45" /><polygon points="527.0,629.1 504.0,616.5 504.0,613.3 527.0,625.9" fill="#8a6420" /><polygon points="527.0,629.1 548.5,617.3 548.5,614.1 527.0,625.9" fill="#8a6420" /><polygon points="527.0,625.9 504.0,613.3 525.5,601.5 548.5,614.1" fill="#f0bf55" /><polygon points="527.0,629.1 523.3,627.1 523.3,624.8 527.0,626.9" fill="#c98f2c" /><polygon points="517.3,623.8 513.7,621.8 513.7,619.6 517.3,621.6" fill="#c98f2c" /><polygon points="507.7,618.5 504.0,616.5 504.0,614.3 507.7,616.3" fill="#c98f2c" /><polygon points="527.0,629.1 530.4,627.2 530.4,625.0 527.0,626.9" fill="#dba53c" /><polygon points="536.0,624.1 539.5,622.3 539.5,620.0 536.0,621.9" fill="#dba53c" /><polygon points="545.1,619.2 548.5,617.3 548.5,615.1 545.1,616.9" fill="#dba53c" /><polygon points="527.0,626.9 504.0,614.3 504.0,613.3 527.0,625.9" fill="#c98f2c" /><polygon points="527.0,626.9 548.5,615.1 548.5,614.1 527.0,625.9" fill="#dba53c" /><line x1="530.6" y1="623.9" x2="507.6" y2="611.3" stroke="#d8a23a" stroke-width="0.45" /><line x1="534.2" y1="622.0" x2="511.2" y2="609.4" stroke="#d8a23a" stroke-width="0.45" /><line x1="537.8" y1="620.0" x2="514.8" y2="607.4" stroke="#d8a23a" stroke-width="0.45" /><line x1="541.3" y1="618.0" x2="518.3" y2="605.4" stroke="#d8a23a" stroke-width="0.45" /><line x1="544.9" y1="616.1" x2="521.9" y2="603.5" stroke="#d8a23a" stroke-width="0.45" /><polygon points="527.8,624.9 504.8,612.3 504.8,609.1 527.8,621.7" fill="#8a6420" /><polygon points="527.8,624.9 549.2,613.1 549.2,609.9 527.8,621.7" fill="#8a6420" /><polygon points="527.8,621.7 504.8,609.1 526.2,597.3 549.2,609.9" fill="#f0bf55" /><polygon points="527.8,624.9 524.1,622.9 524.1,620.6 527.8,622.7" fill="#c98f2c" /><polygon points="518.1,619.6 514.4,617.6 514.4,615.4 518.1,617.4" fill="#c98f2c" /><polygon points="508.4,614.3 504.8,612.3 504.8,610.1 508.4,612.1" fill="#c98f2c" /><polygon points="527.8,624.9 531.2,623.0 531.2,620.8 527.8,622.7" fill="#dba53c" /><polygon points="536.8,619.9 540.2,618.1 540.2,615.8 536.8,617.7" fill="#dba53c" /><polygon points="545.8,615.0 549.2,613.1 549.2,610.9 545.8,612.7" fill="#dba53c" /><polygon points="527.8,622.7 504.8,610.1 504.8,609.1 527.8,621.7" fill="#c98f2c" /><polygon points="527.8,622.7 549.2,610.9 549.2,609.9 527.8,621.7" fill="#dba53c" /><line x1="531.3" y1="619.7" x2="508.3" y2="607.1" stroke="#d8a23a" stroke-width="0.45" /><line x1="534.9" y1="617.8" x2="511.9" y2="605.2" stroke="#d8a23a" stroke-width="0.45" /><line x1="538.5" y1="615.8" x2="515.5" y2="603.2" stroke="#d8a23a" stroke-width="0.45" /><line x1="542.1" y1="613.8" x2="519.1" y2="601.2" stroke="#d8a23a" stroke-width="0.45" /><line x1="545.7" y1="611.9" x2="522.7" y2="599.3" stroke="#d8a23a" stroke-width="0.45" /><ellipse cx="560.0" cy="609.7" rx="4.7" ry="1.6" fill="#7a86a8" opacity="0.55"/><rect x="557.3" y="591.5" width="2.5" height="17.0" fill="#f08a1c" rx="0.0"/><rect x="560.2" y="591.5" width="2.5" height="17.0" fill="#f08a1c" rx="0.0"/><rect x="557.0" y="608.0" width="3.0" height="1.5" fill="#333" rx="0.0"/><rect x="560.2" y="608.0" width="3.0" height="1.5" fill="#333" rx="0.0"/><rect x="555.3" y="581.2" width="1.9" height="10.5" fill="#3aa4b8" rx="0.9"/><rect x="562.8" y="581.2" width="1.9" height="10.5" fill="#3aa4b8" rx="0.9"/><rect x="556.7" y="580.5" width="6.6" height="12.0" fill="#3aa4b8" rx="1.6"/><circle cx="560.0" cy="578.2" r="2.5" fill="#e5b48c" /><path d="M557.3 577.7 a2.7 3.0 0 0 1 5.4 0 z" fill="#4a2e1c"/><polygon points="557.0,581.0 563.0,581.0 563.4,592.5 556.6,592.5" fill="#f08a1c" /><polygon points="556.5,580.5 558.0,580.5 558.0,586.0 556.5,586.0" fill="#3aa4b8" /><polygon points="562.0,580.5 563.5,580.5 563.5,586.0 562.0,586.0" fill="#3aa4b8" /><polygon points="563.0,584.0 567.5,589.0 566.5,590.0 562.5,586.5" fill="#3aa4b8" /><polygon points="560.0,590.5 565.5,588.3 569.5,590.5 564.0,592.8" fill="#eef0f2" stroke="#9aa" stroke-width="0.3"/><polygon points="571.5,590.0 565.5,586.8 565.5,578.3 571.5,581.5" fill="#ecd0a8" /><polygon points="571.5,590.0 577.0,587.0 577.0,578.5 571.5,581.5" fill="#f6e4c8" /><polygon points="571.5,581.5 565.5,578.3 571.0,575.3 577.0,578.5" fill="#f8ead2" /><polygon points="581.5,592.4 574.0,588.4 574.0,576.9 581.5,580.9" fill="#ecd0a8" /><polygon points="581.5,592.4 587.5,589.1 587.5,577.6 581.5,580.9" fill="#f6e4c8" /><polygon points="581.5,580.9 574.0,576.9 580.0,573.6 587.5,577.6" fill="#f8ead2" /><polygon points="578.0,630.5 556.4,618.5 556.4,614.9 578.0,626.9" fill="#8a6420" /><polygon points="578.0,630.5 598.7,618.7 598.7,615.1 578.0,626.9" fill="#8a6420" /><polygon points="578.0,626.9 556.4,614.9 577.1,603.1 598.7,615.1" fill="#f0bf55" /><polygon points="578.0,630.5 574.5,628.6 574.5,626.1 578.0,628.0" fill="#c98f2c" /><polygon points="568.9,625.5 565.5,623.5 565.5,621.0 568.9,622.9" fill="#c98f2c" /><polygon points="559.9,620.4 556.4,618.5 556.4,616.0 559.9,617.9" fill="#c98f2c" /><polygon points="578.0,630.5 581.3,628.6 581.3,626.1 578.0,628.0" fill="#dba53c" /><polygon points="586.7,625.5 590.0,623.7 590.0,621.1 586.7,623.0" fill="#dba53c" /><polygon points="595.4,620.6 598.7,618.7 598.7,616.2 595.4,618.1" fill="#dba53c" /><polygon points="578.0,628.0 556.4,616.0 556.4,614.9 578.0,626.9" fill="#c98f2c" /><polygon points="578.0,628.0 598.7,616.2 598.7,615.1 578.0,626.9" fill="#dba53c" /><line x1="581.5" y1="624.9" x2="559.9" y2="612.9" stroke="#d8a23a" stroke-width="0.45" /><line x1="584.9" y1="623.0" x2="563.3" y2="611.0" stroke="#d8a23a" stroke-width="0.45" /><line x1="588.4" y1="621.0" x2="566.8" y2="609.0" stroke="#d8a23a" stroke-width="0.45" /><line x1="591.8" y1="619.0" x2="570.2" y2="607.0" stroke="#d8a23a" stroke-width="0.45" /><line x1="595.2" y1="617.1" x2="573.6" y2="605.1" stroke="#d8a23a" stroke-width="0.45" /><polygon points="583.0,617.0 575.5,613.0 575.5,599.0 583.0,603.0" fill="#ecd0a8" /><polygon points="583.0,617.0 592.5,611.6 592.5,597.6 583.0,603.0" fill="#f6e4c8" /><polygon points="583.0,603.0 575.5,599.0 585.0,593.6 592.5,597.6" fill="#f8ead2" /><polygon points="574.5,612.5 567.5,608.7 567.5,598.2 574.5,602.0" fill="#ecd0a8" /><polygon points="574.5,612.5 581.0,608.8 581.0,598.3 574.5,602.0" fill="#f6e4c8" /><polygon points="574.5,602.0 567.5,598.2 574.0,594.5 581.0,598.3" fill="#f8ead2" /><polygon points="568.5,618.0 561.5,614.2 561.5,606.2 568.5,610.0" fill="#ecd0a8" /><polygon points="568.5,618.0 575.0,614.3 575.0,606.3 568.5,610.0" fill="#f6e4c8" /><polygon points="568.5,610.0 561.5,606.2 568.0,602.5 575.0,606.3" fill="#f8ead2" /><polygon points="577.5,624.5 571.5,621.3 571.5,614.3 577.5,617.5" fill="#ecd0a8" /><polygon points="577.5,624.5 583.0,621.4 583.0,614.4 577.5,617.5" fill="#f6e4c8" /><polygon points="577.5,617.5 571.5,614.3 577.0,611.2 583.0,614.4" fill="#f8ead2" /><polygon points="563.5,607.5 564.9,608.3 564.9,609.5 563.5,608.7" fill="#d0a8a0" /><polygon points="573.0,613.0 574.4,613.8 574.4,615.0 573.0,614.2" fill="#d0a8a0" /><polygon points="570.5,602.0 571.9,602.8 571.9,604.0 570.5,603.2" fill="#d0a8a0" /><polygon points="578.5,601.5 579.9,602.3 579.9,603.5 578.5,602.7" fill="#d0a8a0" /><polygon points="577.0,582.0 578.4,582.8 578.4,584.0 577.0,583.2" fill="#d0a8a0" /><polygon points="568.0,581.0 569.4,581.8 569.4,583.0 568.0,582.2" fill="#d0a8a0" /><line x1="590.2" y1="566.5" x2="590.2" y2="606.5" stroke="#f2c21e" stroke-width="1.6" /><line x1="600.2" y1="571.5" x2="600.2" y2="611.5" stroke="#f2c21e" stroke-width="1.8" /><line x1="589.6" y1="566.2" x2="600.8" y2="571.6" stroke="#f2c21e" stroke-width="1.4" /><polygon points="591.2,572.0 599.2,576.0 599.2,583.0 591.2,579.0" fill="#e8eaf0" /><polygon points="591.5,583.0 597.0,585.8 597.0,606.0 591.5,603.2" fill="#5a6078" /><polygon points="592.5,595.0 598.5,598.0 598.5,609.0 592.5,606.0" fill="#454a60" /><polygon points="601.0,581.5 603.0,582.5 603.0,590.0 601.0,589.0" fill="#f2c21e" /><polygon points="598.0,606.0 607.0,601.5 612.3,604.5 612.3,608.0 603.5,612.6 598.0,609.5" fill="#f2c21e" /><ellipse cx="609.3" cy="608.3" rx="1.7" ry="2.0" fill="#1c1c1c" /><ellipse cx="609.6" cy="608.3" rx="0.8" ry="0.9" fill="#a9a9a9" />
<polyline points="466.7,389.4 458.8,382.3" fill="none" stroke="#111" stroke-width="1" />
<polyline points="483.7,392.1 468.4,377.2" fill="none" stroke="#111" stroke-width="1" />
<text x="86.0" y="171.5" font-size="12.5" text-anchor="start" >下达送货任务</text>
<text x="218.0" y="131.0" font-size="12.5" text-anchor="start" transform="rotate(32 218.0 131.0)" >供应商来料</text>
<text x="198.5" y="207.3" font-size="11.2" text-anchor="start" >不合格</text>
<text x="305.0" y="203.5" font-size="12.5" text-anchor="start" >来料报检</text>
<text x="305.0" y="224.0" font-size="12.5" text-anchor="start" >IQC检验</text>
<text x="295.3" y="264.0" font-size="11.2" text-anchor="start" transform="rotate(-90 295.3 264.0)" >合格</text>
<text x="153.0" y="291.0" font-size="12.5" text-anchor="start" transform="rotate(-33 153.0 291.0)" >退换货</text>
<text x="220.0" y="339.5" font-size="12.5" text-anchor="start" >入库上架</text>
<text x="437.0" y="280.0" font-size="12.5" text-anchor="start" transform="rotate(-33 437.0 280.0)" >原材料库</text>
<text x="499.0" y="134.5" font-size="12.5" text-anchor="start" >领料指令</text>
<text x="618.0" y="220.5" font-size="12.5" text-anchor="start" >仓库备料</text>
<text x="617.0" y="334.5" font-size="12.5" text-anchor="start" >物料配送</text>
<text x="390.0" y="386.0" font-size="12.5" text-anchor="start" transform="rotate(30 390.0 386.0)" >车间库</text>
<text x="148.0" y="425.5" font-size="12.5" text-anchor="start" >生产领料</text>
<text x="328.0" y="484.0" font-size="12.5" text-anchor="start" transform="rotate(-33 328.0 484.0)" >退料</text>
<text x="188.0" y="559.0" font-size="12.5" text-anchor="start" transform="rotate(30 188.0 559.0)" >生产加工</text>
<text x="324.0" y="629.5" font-size="12.5" text-anchor="start" >完工检验</text>
<text x="585.5" y="517.0" font-size="12.5" text-anchor="start" transform="rotate(30 585.5 517.0)" >成品库</text>
<text x="547.0" y="653.5" font-size="12.5" text-anchor="start" >生产入库</text>
<text x="796.0" y="313.5" font-size="12.5" text-anchor="start" >发货指令</text>
<text x="791.2" y="431.5" font-size="12.5" text-anchor="start" transform="rotate(-33 791.2 431.5)" >仓库备货</text>
<text x="799.0" y="531.5" font-size="12.5" text-anchor="start" >销售发货</text>
<text x="749.0" y="611.5" font-size="12.5" text-anchor="start" >销售退货</text>
</svg></body></html>
